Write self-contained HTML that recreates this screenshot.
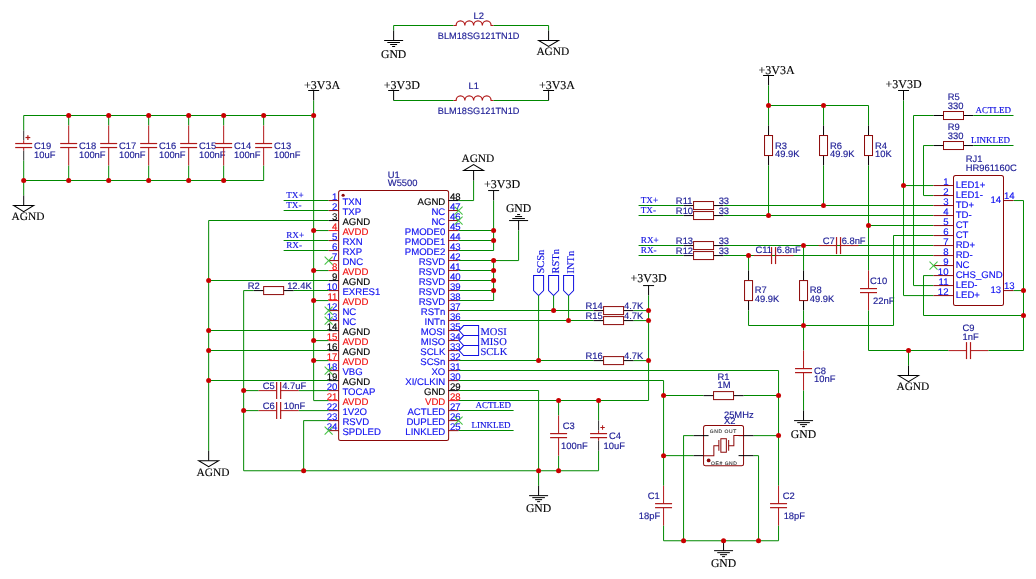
<!DOCTYPE html>
<html><head><meta charset="utf-8"><style>
html,body{margin:0;padding:0;background:#fff;}
svg{display:block;will-change:transform;} text{text-rendering:geometricPrecision;}
</style></head><body>
<svg width="1036" height="579" viewBox="0 0 1036 579">
<rect width="1036" height="579" fill="#fff"/>
<g transform="matrix(0.9998,0,0,1.0003,0.2,-0.008)">
<line x1="393.5" y1="25.5" x2="453.5" y2="25.5" stroke="#008800" stroke-width="1.0"/>
<line x1="453.5" y1="25.5" x2="453.5" y2="25.5" stroke="#b01818" stroke-width="1.0"/>
<path d="M453.5,25.5 L456.0,25.5 a4.375,4.6 0 0 1 8.75,0 a4.375,4.6 0 0 1 8.75,0 a4.375,4.6 0 0 1 8.75,0 a4.375,4.6 0 0 1 8.75,0 L493.5,25.5" fill="none" stroke="#b01818" stroke-width="1.2"/>
<line x1="493.5" y1="25.5" x2="548.5" y2="25.5" stroke="#008800" stroke-width="1.0"/>
<line x1="393.5" y1="25.5" x2="393.5" y2="30.5" stroke="#008800" stroke-width="1.0"/>
<line x1="393.5" y1="30.5" x2="393.5" y2="40.5" stroke="#000000" stroke-width="1.0"/>
<line x1="384.0" y1="40.5" x2="403.0" y2="40.5" stroke="#000000" stroke-width="1.0"/>
<line x1="387.2" y1="42.5" x2="399.8" y2="42.5" stroke="#000000" stroke-width="1.0"/>
<line x1="390.0" y1="44.5" x2="397.0" y2="44.5" stroke="#000000" stroke-width="1.0"/>
<line x1="392.0" y1="46.5" x2="395.0" y2="46.5" stroke="#000000" stroke-width="1.0"/>
<text x="393.5" y="57.7" font-family='"Liberation Serif", serif' font-size="11.7" fill="#000000" text-anchor="middle" stroke="#000000" stroke-width="0.12" >GND</text>
<line x1="548.5" y1="25.5" x2="548.5" y2="30.5" stroke="#008800" stroke-width="1.0"/>
<line x1="548.5" y1="30.5" x2="548.5" y2="40.5" stroke="#000000" stroke-width="1.0"/>
<polygon points="538.5,40.5 558.5,40.5 548.5,46.5" fill="none" stroke="#000000" stroke-width="1"/>
<text x="536.3" y="55.2" font-family='"Liberation Serif", serif' font-size="11.4" fill="#000000" text-anchor="start" stroke="#000000" stroke-width="0.12" >AGND</text>
<text x="473.5" y="18.8" font-family='"Liberation Sans", sans-serif' font-size="9.4" fill="#1a1a94" text-anchor="start" stroke="#1a1a94" stroke-width="0.15" >L2</text>
<text x="437.7" y="38.9" font-family='"Liberation Sans", sans-serif' font-size="9.2" fill="#1a1a94" text-anchor="start" stroke="#1a1a94" stroke-width="0.15" >BLM18SG121TN1D</text>
<line x1="388.0" y1="90.5" x2="399.0" y2="90.5" stroke="#000000" stroke-width="1.0"/>
<line x1="393.5" y1="90.5" x2="393.5" y2="100.5" stroke="#000000" stroke-width="1.0"/>
<text x="383.7" y="89" font-family='"Liberation Serif", serif' font-size="12" fill="#000000" text-anchor="start" stroke="#000000" stroke-width="0.12" >+3V3D</text>
<line x1="393.5" y1="100.5" x2="453.5" y2="100.5" stroke="#008800" stroke-width="1.0"/>
<line x1="453.5" y1="100.5" x2="453.5" y2="100.5" stroke="#b01818" stroke-width="1.0"/>
<path d="M453.5,100.5 L456.0,100.5 a4.375,4.6 0 0 1 8.75,0 a4.375,4.6 0 0 1 8.75,0 a4.375,4.6 0 0 1 8.75,0 a4.375,4.6 0 0 1 8.75,0 L493.5,100.5" fill="none" stroke="#b01818" stroke-width="1.2"/>
<line x1="493.5" y1="100.5" x2="548.5" y2="100.5" stroke="#008800" stroke-width="1.0"/>
<line x1="543.0" y1="90.5" x2="554.0" y2="90.5" stroke="#000000" stroke-width="1.0"/>
<line x1="548.5" y1="90.5" x2="548.5" y2="100.5" stroke="#000000" stroke-width="1.0"/>
<text x="538.8" y="89" font-family='"Liberation Serif", serif' font-size="12" fill="#000000" text-anchor="start" stroke="#000000" stroke-width="0.12" >+3V3A</text>
<text x="468.5" y="89" font-family='"Liberation Sans", sans-serif' font-size="9.4" fill="#1a1a94" text-anchor="start" stroke="#1a1a94" stroke-width="0.15" >L1</text>
<text x="437.7" y="114.2" font-family='"Liberation Sans", sans-serif' font-size="9.2" fill="#1a1a94" text-anchor="start" stroke="#1a1a94" stroke-width="0.15" >BLM18SG121TN1D</text>
<line x1="23.5" y1="115.5" x2="313.5" y2="115.5" stroke="#008800" stroke-width="1.0"/>
<line x1="23.5" y1="180.5" x2="263.5" y2="180.5" stroke="#008800" stroke-width="1.0"/>
<line x1="23.5" y1="115.5" x2="23.5" y2="130.5" stroke="#008800" stroke-width="1.0"/>
<line x1="23.5" y1="160.5" x2="23.5" y2="180.5" stroke="#008800" stroke-width="1.0"/>
<line x1="23.5" y1="130.5" x2="23.5" y2="140.5" stroke="#303030" stroke-width="1.0"/>
<line x1="23.5" y1="150.5" x2="23.5" y2="160.5" stroke="#303030" stroke-width="1.0"/>
<line x1="23.5" y1="140.5" x2="23.5" y2="143.5" stroke="#b01818" stroke-width="1.0"/>
<line x1="23.5" y1="147.5" x2="23.5" y2="150.5" stroke="#b01818" stroke-width="1.0"/>
<line x1="15.0" y1="143.5" x2="32.0" y2="143.5" stroke="#b01818" stroke-width="1.2"/>
<line x1="15.0" y1="147.5" x2="32.0" y2="147.5" stroke="#b01818" stroke-width="1.2"/>
<line x1="25.3" y1="137.5" x2="30.1" y2="137.5" stroke="#b01818" stroke-width="1.2"/>
<line x1="27.7" y1="135.1" x2="27.7" y2="139.9" stroke="#b01818" stroke-width="1.2"/>
<text x="33.8" y="149" font-family='"Liberation Sans", sans-serif' font-size="9.4" fill="#1a1a94" text-anchor="start" stroke="#1a1a94" stroke-width="0.15" >C19</text>
<text x="33.8" y="157.8" font-family='"Liberation Sans", sans-serif' font-size="9.4" fill="#1a1a94" text-anchor="start" stroke="#1a1a94" stroke-width="0.15" >10uF</text>
<line x1="68.5" y1="115.5" x2="68.5" y2="125.5" stroke="#008800" stroke-width="1.0"/>
<line x1="68.5" y1="165.5" x2="68.5" y2="180.5" stroke="#008800" stroke-width="1.0"/>
<line x1="68.5" y1="125.5" x2="68.5" y2="143.5" stroke="#b01818" stroke-width="1.0"/>
<line x1="68.5" y1="147.5" x2="68.5" y2="165.5" stroke="#b01818" stroke-width="1.0"/>
<line x1="60.0" y1="143.5" x2="77.0" y2="143.5" stroke="#b01818" stroke-width="1.2"/>
<line x1="60.0" y1="147.5" x2="77.0" y2="147.5" stroke="#b01818" stroke-width="1.2"/>
<text x="78.8" y="149" font-family='"Liberation Sans", sans-serif' font-size="9.4" fill="#1a1a94" text-anchor="start" stroke="#1a1a94" stroke-width="0.15" >C18</text>
<text x="78.8" y="157.8" font-family='"Liberation Sans", sans-serif' font-size="9.4" fill="#1a1a94" text-anchor="start" stroke="#1a1a94" stroke-width="0.15" >100nF</text>
<line x1="108.5" y1="115.5" x2="108.5" y2="125.5" stroke="#008800" stroke-width="1.0"/>
<line x1="108.5" y1="165.5" x2="108.5" y2="180.5" stroke="#008800" stroke-width="1.0"/>
<line x1="108.5" y1="125.5" x2="108.5" y2="143.5" stroke="#b01818" stroke-width="1.0"/>
<line x1="108.5" y1="147.5" x2="108.5" y2="165.5" stroke="#b01818" stroke-width="1.0"/>
<line x1="100.0" y1="143.5" x2="117.0" y2="143.5" stroke="#b01818" stroke-width="1.2"/>
<line x1="100.0" y1="147.5" x2="117.0" y2="147.5" stroke="#b01818" stroke-width="1.2"/>
<text x="118.8" y="149" font-family='"Liberation Sans", sans-serif' font-size="9.4" fill="#1a1a94" text-anchor="start" stroke="#1a1a94" stroke-width="0.15" >C17</text>
<text x="118.8" y="157.8" font-family='"Liberation Sans", sans-serif' font-size="9.4" fill="#1a1a94" text-anchor="start" stroke="#1a1a94" stroke-width="0.15" >100nF</text>
<line x1="148.5" y1="115.5" x2="148.5" y2="125.5" stroke="#008800" stroke-width="1.0"/>
<line x1="148.5" y1="165.5" x2="148.5" y2="180.5" stroke="#008800" stroke-width="1.0"/>
<line x1="148.5" y1="125.5" x2="148.5" y2="143.5" stroke="#b01818" stroke-width="1.0"/>
<line x1="148.5" y1="147.5" x2="148.5" y2="165.5" stroke="#b01818" stroke-width="1.0"/>
<line x1="140.0" y1="143.5" x2="157.0" y2="143.5" stroke="#b01818" stroke-width="1.2"/>
<line x1="140.0" y1="147.5" x2="157.0" y2="147.5" stroke="#b01818" stroke-width="1.2"/>
<text x="158.8" y="149" font-family='"Liberation Sans", sans-serif' font-size="9.4" fill="#1a1a94" text-anchor="start" stroke="#1a1a94" stroke-width="0.15" >C16</text>
<text x="158.8" y="157.8" font-family='"Liberation Sans", sans-serif' font-size="9.4" fill="#1a1a94" text-anchor="start" stroke="#1a1a94" stroke-width="0.15" >100nF</text>
<line x1="188.5" y1="115.5" x2="188.5" y2="125.5" stroke="#008800" stroke-width="1.0"/>
<line x1="188.5" y1="165.5" x2="188.5" y2="180.5" stroke="#008800" stroke-width="1.0"/>
<line x1="188.5" y1="125.5" x2="188.5" y2="143.5" stroke="#b01818" stroke-width="1.0"/>
<line x1="188.5" y1="147.5" x2="188.5" y2="165.5" stroke="#b01818" stroke-width="1.0"/>
<line x1="180.0" y1="143.5" x2="197.0" y2="143.5" stroke="#b01818" stroke-width="1.2"/>
<line x1="180.0" y1="147.5" x2="197.0" y2="147.5" stroke="#b01818" stroke-width="1.2"/>
<text x="198.8" y="149" font-family='"Liberation Sans", sans-serif' font-size="9.4" fill="#1a1a94" text-anchor="start" stroke="#1a1a94" stroke-width="0.15" >C15</text>
<text x="198.8" y="157.8" font-family='"Liberation Sans", sans-serif' font-size="9.4" fill="#1a1a94" text-anchor="start" stroke="#1a1a94" stroke-width="0.15" >100nF</text>
<line x1="223.5" y1="115.5" x2="223.5" y2="125.5" stroke="#008800" stroke-width="1.0"/>
<line x1="223.5" y1="165.5" x2="223.5" y2="180.5" stroke="#008800" stroke-width="1.0"/>
<line x1="223.5" y1="125.5" x2="223.5" y2="143.5" stroke="#b01818" stroke-width="1.0"/>
<line x1="223.5" y1="147.5" x2="223.5" y2="165.5" stroke="#b01818" stroke-width="1.0"/>
<line x1="215.0" y1="143.5" x2="232.0" y2="143.5" stroke="#b01818" stroke-width="1.2"/>
<line x1="215.0" y1="147.5" x2="232.0" y2="147.5" stroke="#b01818" stroke-width="1.2"/>
<text x="233.8" y="149" font-family='"Liberation Sans", sans-serif' font-size="9.4" fill="#1a1a94" text-anchor="start" stroke="#1a1a94" stroke-width="0.15" >C14</text>
<text x="233.8" y="157.8" font-family='"Liberation Sans", sans-serif' font-size="9.4" fill="#1a1a94" text-anchor="start" stroke="#1a1a94" stroke-width="0.15" >100nF</text>
<line x1="263.5" y1="115.5" x2="263.5" y2="125.5" stroke="#008800" stroke-width="1.0"/>
<line x1="263.5" y1="165.5" x2="263.5" y2="180.5" stroke="#008800" stroke-width="1.0"/>
<line x1="263.5" y1="125.5" x2="263.5" y2="143.5" stroke="#b01818" stroke-width="1.0"/>
<line x1="263.5" y1="147.5" x2="263.5" y2="165.5" stroke="#b01818" stroke-width="1.0"/>
<line x1="255.0" y1="143.5" x2="272.0" y2="143.5" stroke="#b01818" stroke-width="1.2"/>
<line x1="255.0" y1="147.5" x2="272.0" y2="147.5" stroke="#b01818" stroke-width="1.2"/>
<text x="273.8" y="149" font-family='"Liberation Sans", sans-serif' font-size="9.4" fill="#1a1a94" text-anchor="start" stroke="#1a1a94" stroke-width="0.15" >C13</text>
<text x="273.8" y="157.8" font-family='"Liberation Sans", sans-serif' font-size="9.4" fill="#1a1a94" text-anchor="start" stroke="#1a1a94" stroke-width="0.15" >100nF</text>
<line x1="23.5" y1="180.5" x2="23.5" y2="195.5" stroke="#008800" stroke-width="1.0"/>
<line x1="23.5" y1="195.5" x2="23.5" y2="205.5" stroke="#000000" stroke-width="1.0"/>
<polygon points="13.5,205.5 33.5,205.5 23.5,211.5" fill="none" stroke="#000000" stroke-width="1"/>
<text x="11.3" y="220.3" font-family='"Liberation Serif", serif' font-size="11.4" fill="#000000" text-anchor="start" stroke="#000000" stroke-width="0.12" >AGND</text>
<line x1="308.0" y1="90.5" x2="319.0" y2="90.5" stroke="#000000" stroke-width="1.0"/>
<line x1="313.5" y1="90.5" x2="313.5" y2="100.5" stroke="#000000" stroke-width="1.0"/>
<text x="303.9" y="89" font-family='"Liberation Serif", serif' font-size="12" fill="#000000" text-anchor="start" stroke="#000000" stroke-width="0.12" >+3V3A</text>
<line x1="313.5" y1="100.5" x2="313.5" y2="400.5" stroke="#008800" stroke-width="1.0"/>
<line x1="208.5" y1="220.5" x2="328.5" y2="220.5" stroke="#008800" stroke-width="1.0"/>
<line x1="208.5" y1="220.5" x2="208.5" y2="450.5" stroke="#008800" stroke-width="1.0"/>
<line x1="208.5" y1="280.5" x2="328.5" y2="280.5" stroke="#008800" stroke-width="1.0"/>
<line x1="208.5" y1="330.5" x2="328.5" y2="330.5" stroke="#008800" stroke-width="1.0"/>
<line x1="208.5" y1="350.5" x2="328.5" y2="350.5" stroke="#008800" stroke-width="1.0"/>
<line x1="208.5" y1="380.5" x2="328.5" y2="380.5" stroke="#008800" stroke-width="1.0"/>
<line x1="313.5" y1="230.5" x2="328.5" y2="230.5" stroke="#008800" stroke-width="1.0"/>
<line x1="313.5" y1="270.5" x2="328.5" y2="270.5" stroke="#008800" stroke-width="1.0"/>
<line x1="313.5" y1="300.5" x2="328.5" y2="300.5" stroke="#008800" stroke-width="1.0"/>
<line x1="313.5" y1="340.5" x2="328.5" y2="340.5" stroke="#008800" stroke-width="1.0"/>
<line x1="313.5" y1="360.5" x2="328.5" y2="360.5" stroke="#008800" stroke-width="1.0"/>
<line x1="313.5" y1="400.5" x2="328.5" y2="400.5" stroke="#008800" stroke-width="1.0"/>
<line x1="208.5" y1="450.5" x2="208.5" y2="460.5" stroke="#000000" stroke-width="1.0"/>
<polygon points="198.5,460.5 218.5,460.5 208.5,466.5" fill="none" stroke="#000000" stroke-width="1"/>
<text x="196.4" y="475.4" font-family='"Liberation Serif", serif' font-size="11.4" fill="#000000" text-anchor="start" stroke="#000000" stroke-width="0.12" >AGND</text>
<line x1="283.5" y1="200.5" x2="328.5" y2="200.5" stroke="#008800" stroke-width="1.0"/>
<text x="286" y="198.0" font-family='"Liberation Serif", serif' font-size="9.2" fill="#1010e0" text-anchor="start" stroke="#1010e0" stroke-width="0.14" >TX+</text>
<line x1="283.5" y1="210.5" x2="328.5" y2="210.5" stroke="#008800" stroke-width="1.0"/>
<text x="286" y="208.0" font-family='"Liberation Serif", serif' font-size="9.2" fill="#1010e0" text-anchor="start" stroke="#1010e0" stroke-width="0.14" >TX-</text>
<line x1="283.5" y1="240.5" x2="328.5" y2="240.5" stroke="#008800" stroke-width="1.0"/>
<text x="286" y="238.0" font-family='"Liberation Serif", serif' font-size="9.2" fill="#1010e0" text-anchor="start" stroke="#1010e0" stroke-width="0.14" >RX+</text>
<line x1="283.5" y1="250.5" x2="328.5" y2="250.5" stroke="#008800" stroke-width="1.0"/>
<text x="286" y="248.0" font-family='"Liberation Serif", serif' font-size="9.2" fill="#1010e0" text-anchor="start" stroke="#1010e0" stroke-width="0.14" >RX-</text>
<line x1="243.5" y1="290.5" x2="253.5" y2="290.5" stroke="#008800" stroke-width="1.0"/>
<line x1="293.5" y1="290.5" x2="328.5" y2="290.5" stroke="#008800" stroke-width="1.0"/>
<line x1="253.5" y1="290.5" x2="263.5" y2="290.5" stroke="#000000" stroke-width="1.0"/>
<line x1="283.5" y1="290.5" x2="293.5" y2="290.5" stroke="#000000" stroke-width="1.0"/>
<rect x="263.5" y="286.5" width="20.0" height="8.0" rx="0" fill="none" stroke="#8c0808" stroke-width="1.0"/>
<text x="247.6" y="288.8" font-family='"Liberation Sans", sans-serif' font-size="9.4" fill="#1a1a94" text-anchor="start" stroke="#1a1a94" stroke-width="0.15" >R2</text>
<text x="287" y="288.8" font-family='"Liberation Sans", sans-serif' font-size="9.4" fill="#1a1a94" text-anchor="start" stroke="#1a1a94" stroke-width="0.15" >12.4K</text>
<line x1="243.5" y1="290.5" x2="243.5" y2="470.5" stroke="#008800" stroke-width="1.0"/>
<line x1="243.5" y1="390.5" x2="258.5" y2="390.5" stroke="#008800" stroke-width="1.0"/>
<line x1="298.5" y1="390.5" x2="328.5" y2="390.5" stroke="#008800" stroke-width="1.0"/>
<line x1="258.5" y1="390.5" x2="276.5" y2="390.5" stroke="#b01818" stroke-width="1.0"/>
<line x1="280.5" y1="390.5" x2="298.5" y2="390.5" stroke="#b01818" stroke-width="1.0"/>
<line x1="276.5" y1="382.0" x2="276.5" y2="399.0" stroke="#b01818" stroke-width="1.2"/>
<line x1="280.5" y1="382.0" x2="280.5" y2="399.0" stroke="#b01818" stroke-width="1.2"/>
<text x="262.7" y="388.6" font-family='"Liberation Sans", sans-serif' font-size="9.4" fill="#1a1a94" text-anchor="start" stroke="#1a1a94" stroke-width="0.15" >C5</text>
<text x="282" y="388.6" font-family='"Liberation Sans", sans-serif' font-size="9.4" fill="#1a1a94" text-anchor="start" stroke="#1a1a94" stroke-width="0.15" >4.7uF</text>
<line x1="243.5" y1="410.5" x2="258.5" y2="410.5" stroke="#008800" stroke-width="1.0"/>
<line x1="298.5" y1="410.5" x2="328.5" y2="410.5" stroke="#008800" stroke-width="1.0"/>
<line x1="258.5" y1="410.5" x2="276.5" y2="410.5" stroke="#b01818" stroke-width="1.0"/>
<line x1="280.5" y1="410.5" x2="298.5" y2="410.5" stroke="#b01818" stroke-width="1.0"/>
<line x1="276.5" y1="402.0" x2="276.5" y2="419.0" stroke="#b01818" stroke-width="1.2"/>
<line x1="280.5" y1="402.0" x2="280.5" y2="419.0" stroke="#b01818" stroke-width="1.2"/>
<text x="262.7" y="408.4" font-family='"Liberation Sans", sans-serif' font-size="9.4" fill="#1a1a94" text-anchor="start" stroke="#1a1a94" stroke-width="0.15" >C6</text>
<text x="283.6" y="408.4" font-family='"Liberation Sans", sans-serif' font-size="9.4" fill="#1a1a94" text-anchor="start" stroke="#1a1a94" stroke-width="0.15" >10nF</text>
<line x1="303.5" y1="420.5" x2="328.5" y2="420.5" stroke="#008800" stroke-width="1.0"/>
<line x1="303.5" y1="420.5" x2="303.5" y2="470.5" stroke="#008800" stroke-width="1.0"/>
<line x1="243.5" y1="470.5" x2="598.5" y2="470.5" stroke="#008800" stroke-width="1.0"/>
<rect x="338.5" y="190.5" width="110.0" height="250.0" rx="2" fill="none" stroke="#8c0808" stroke-width="1.0"/>
<circle cx="343" cy="195.2" r="1.6" fill="#8c0808"/>
<line x1="328.5" y1="200.5" x2="338.5" y2="200.5" stroke="#8c0808" stroke-width="1.0"/>
<text x="337.3" y="199.7" font-family='"Liberation Sans", sans-serif' font-size="9.6" fill="#1010f0" text-anchor="end" stroke="#1010f0" stroke-width="0.15" >1</text>
<text x="342.3" y="204.8" font-family='"Liberation Sans", sans-serif' font-size="9.6" fill="#1010f0" text-anchor="start" stroke="#1010f0" stroke-width="0.15" >TXN</text>
<line x1="328.5" y1="210.5" x2="338.5" y2="210.5" stroke="#8c0808" stroke-width="1.0"/>
<text x="337.3" y="209.7" font-family='"Liberation Sans", sans-serif' font-size="9.6" fill="#1010f0" text-anchor="end" stroke="#1010f0" stroke-width="0.15" >2</text>
<text x="342.3" y="214.8" font-family='"Liberation Sans", sans-serif' font-size="9.6" fill="#1010f0" text-anchor="start" stroke="#1010f0" stroke-width="0.15" >TXP</text>
<line x1="328.5" y1="220.5" x2="338.5" y2="220.5" stroke="#000000" stroke-width="1.0"/>
<text x="337.3" y="219.7" font-family='"Liberation Sans", sans-serif' font-size="9.6" fill="#000000" text-anchor="end" stroke="#000000" stroke-width="0.15" >3</text>
<text x="342.3" y="224.8" font-family='"Liberation Sans", sans-serif' font-size="9.6" fill="#000000" text-anchor="start" stroke="#000000" stroke-width="0.15" >AGND</text>
<line x1="328.5" y1="230.5" x2="338.5" y2="230.5" stroke="#f01010" stroke-width="1.0"/>
<text x="337.3" y="229.7" font-family='"Liberation Sans", sans-serif' font-size="9.6" fill="#f01010" text-anchor="end" stroke="#f01010" stroke-width="0.15" >4</text>
<text x="342.3" y="234.8" font-family='"Liberation Sans", sans-serif' font-size="9.6" fill="#f01010" text-anchor="start" stroke="#f01010" stroke-width="0.15" >AVDD</text>
<line x1="328.5" y1="240.5" x2="338.5" y2="240.5" stroke="#8c0808" stroke-width="1.0"/>
<text x="337.3" y="239.7" font-family='"Liberation Sans", sans-serif' font-size="9.6" fill="#1010f0" text-anchor="end" stroke="#1010f0" stroke-width="0.15" >5</text>
<text x="342.3" y="244.8" font-family='"Liberation Sans", sans-serif' font-size="9.6" fill="#1010f0" text-anchor="start" stroke="#1010f0" stroke-width="0.15" >RXN</text>
<line x1="328.5" y1="250.5" x2="338.5" y2="250.5" stroke="#8c0808" stroke-width="1.0"/>
<text x="337.3" y="249.7" font-family='"Liberation Sans", sans-serif' font-size="9.6" fill="#1010f0" text-anchor="end" stroke="#1010f0" stroke-width="0.15" >6</text>
<text x="342.3" y="254.8" font-family='"Liberation Sans", sans-serif' font-size="9.6" fill="#1010f0" text-anchor="start" stroke="#1010f0" stroke-width="0.15" >RXP</text>
<line x1="328.5" y1="260.5" x2="338.5" y2="260.5" stroke="#8c0808" stroke-width="1.0"/>
<text x="337.3" y="259.7" font-family='"Liberation Sans", sans-serif' font-size="9.6" fill="#1010f0" text-anchor="end" stroke="#1010f0" stroke-width="0.15" >7</text>
<text x="342.3" y="264.8" font-family='"Liberation Sans", sans-serif' font-size="9.6" fill="#1010f0" text-anchor="start" stroke="#1010f0" stroke-width="0.15" >DNC</text>
<line x1="328.5" y1="270.5" x2="338.5" y2="270.5" stroke="#f01010" stroke-width="1.0"/>
<text x="337.3" y="269.7" font-family='"Liberation Sans", sans-serif' font-size="9.6" fill="#f01010" text-anchor="end" stroke="#f01010" stroke-width="0.15" >8</text>
<text x="342.3" y="274.8" font-family='"Liberation Sans", sans-serif' font-size="9.6" fill="#f01010" text-anchor="start" stroke="#f01010" stroke-width="0.15" >AVDD</text>
<line x1="328.5" y1="280.5" x2="338.5" y2="280.5" stroke="#000000" stroke-width="1.0"/>
<text x="337.3" y="279.7" font-family='"Liberation Sans", sans-serif' font-size="9.6" fill="#000000" text-anchor="end" stroke="#000000" stroke-width="0.15" >9</text>
<text x="342.3" y="284.8" font-family='"Liberation Sans", sans-serif' font-size="9.6" fill="#000000" text-anchor="start" stroke="#000000" stroke-width="0.15" >AGND</text>
<line x1="328.5" y1="290.5" x2="338.5" y2="290.5" stroke="#8c0808" stroke-width="1.0"/>
<text x="337.3" y="289.7" font-family='"Liberation Sans", sans-serif' font-size="9.6" fill="#1010f0" text-anchor="end" stroke="#1010f0" stroke-width="0.15" >10</text>
<text x="342.3" y="294.8" font-family='"Liberation Sans", sans-serif' font-size="9.6" fill="#1010f0" text-anchor="start" stroke="#1010f0" stroke-width="0.15" >EXRES1</text>
<line x1="328.5" y1="300.5" x2="338.5" y2="300.5" stroke="#f01010" stroke-width="1.0"/>
<text x="337.3" y="299.7" font-family='"Liberation Sans", sans-serif' font-size="9.6" fill="#f01010" text-anchor="end" stroke="#f01010" stroke-width="0.15" >11</text>
<text x="342.3" y="304.8" font-family='"Liberation Sans", sans-serif' font-size="9.6" fill="#f01010" text-anchor="start" stroke="#f01010" stroke-width="0.15" >AVDD</text>
<line x1="328.5" y1="310.5" x2="338.5" y2="310.5" stroke="#8c0808" stroke-width="1.0"/>
<text x="337.3" y="309.7" font-family='"Liberation Sans", sans-serif' font-size="9.6" fill="#1010f0" text-anchor="end" stroke="#1010f0" stroke-width="0.15" >12</text>
<text x="342.3" y="314.8" font-family='"Liberation Sans", sans-serif' font-size="9.6" fill="#1010f0" text-anchor="start" stroke="#1010f0" stroke-width="0.15" >NC</text>
<line x1="328.5" y1="320.5" x2="338.5" y2="320.5" stroke="#8c0808" stroke-width="1.0"/>
<text x="337.3" y="319.7" font-family='"Liberation Sans", sans-serif' font-size="9.6" fill="#1010f0" text-anchor="end" stroke="#1010f0" stroke-width="0.15" >13</text>
<text x="342.3" y="324.8" font-family='"Liberation Sans", sans-serif' font-size="9.6" fill="#1010f0" text-anchor="start" stroke="#1010f0" stroke-width="0.15" >NC</text>
<line x1="328.5" y1="330.5" x2="338.5" y2="330.5" stroke="#000000" stroke-width="1.0"/>
<text x="337.3" y="329.7" font-family='"Liberation Sans", sans-serif' font-size="9.6" fill="#000000" text-anchor="end" stroke="#000000" stroke-width="0.15" >14</text>
<text x="342.3" y="334.8" font-family='"Liberation Sans", sans-serif' font-size="9.6" fill="#000000" text-anchor="start" stroke="#000000" stroke-width="0.15" >AGND</text>
<line x1="328.5" y1="340.5" x2="338.5" y2="340.5" stroke="#f01010" stroke-width="1.0"/>
<text x="337.3" y="339.7" font-family='"Liberation Sans", sans-serif' font-size="9.6" fill="#f01010" text-anchor="end" stroke="#f01010" stroke-width="0.15" >15</text>
<text x="342.3" y="344.8" font-family='"Liberation Sans", sans-serif' font-size="9.6" fill="#f01010" text-anchor="start" stroke="#f01010" stroke-width="0.15" >AVDD</text>
<line x1="328.5" y1="350.5" x2="338.5" y2="350.5" stroke="#000000" stroke-width="1.0"/>
<text x="337.3" y="349.7" font-family='"Liberation Sans", sans-serif' font-size="9.6" fill="#000000" text-anchor="end" stroke="#000000" stroke-width="0.15" >16</text>
<text x="342.3" y="354.8" font-family='"Liberation Sans", sans-serif' font-size="9.6" fill="#000000" text-anchor="start" stroke="#000000" stroke-width="0.15" >AGND</text>
<line x1="328.5" y1="360.5" x2="338.5" y2="360.5" stroke="#f01010" stroke-width="1.0"/>
<text x="337.3" y="359.7" font-family='"Liberation Sans", sans-serif' font-size="9.6" fill="#f01010" text-anchor="end" stroke="#f01010" stroke-width="0.15" >17</text>
<text x="342.3" y="364.8" font-family='"Liberation Sans", sans-serif' font-size="9.6" fill="#f01010" text-anchor="start" stroke="#f01010" stroke-width="0.15" >AVDD</text>
<line x1="328.5" y1="370.5" x2="338.5" y2="370.5" stroke="#8c0808" stroke-width="1.0"/>
<text x="337.3" y="369.7" font-family='"Liberation Sans", sans-serif' font-size="9.6" fill="#1010f0" text-anchor="end" stroke="#1010f0" stroke-width="0.15" >18</text>
<text x="342.3" y="374.8" font-family='"Liberation Sans", sans-serif' font-size="9.6" fill="#1010f0" text-anchor="start" stroke="#1010f0" stroke-width="0.15" >VBG</text>
<line x1="328.5" y1="380.5" x2="338.5" y2="380.5" stroke="#000000" stroke-width="1.0"/>
<text x="337.3" y="379.7" font-family='"Liberation Sans", sans-serif' font-size="9.6" fill="#000000" text-anchor="end" stroke="#000000" stroke-width="0.15" >19</text>
<text x="342.3" y="384.8" font-family='"Liberation Sans", sans-serif' font-size="9.6" fill="#000000" text-anchor="start" stroke="#000000" stroke-width="0.15" >AGND</text>
<line x1="328.5" y1="390.5" x2="338.5" y2="390.5" stroke="#8c0808" stroke-width="1.0"/>
<text x="337.3" y="389.7" font-family='"Liberation Sans", sans-serif' font-size="9.6" fill="#1010f0" text-anchor="end" stroke="#1010f0" stroke-width="0.15" >20</text>
<text x="342.3" y="394.8" font-family='"Liberation Sans", sans-serif' font-size="9.6" fill="#1010f0" text-anchor="start" stroke="#1010f0" stroke-width="0.15" >TOCAP</text>
<line x1="328.5" y1="400.5" x2="338.5" y2="400.5" stroke="#f01010" stroke-width="1.0"/>
<text x="337.3" y="399.7" font-family='"Liberation Sans", sans-serif' font-size="9.6" fill="#f01010" text-anchor="end" stroke="#f01010" stroke-width="0.15" >21</text>
<text x="342.3" y="404.8" font-family='"Liberation Sans", sans-serif' font-size="9.6" fill="#f01010" text-anchor="start" stroke="#f01010" stroke-width="0.15" >AVDD</text>
<line x1="328.5" y1="410.5" x2="338.5" y2="410.5" stroke="#8c0808" stroke-width="1.0"/>
<text x="337.3" y="409.7" font-family='"Liberation Sans", sans-serif' font-size="9.6" fill="#1010f0" text-anchor="end" stroke="#1010f0" stroke-width="0.15" >22</text>
<text x="342.3" y="414.8" font-family='"Liberation Sans", sans-serif' font-size="9.6" fill="#1010f0" text-anchor="start" stroke="#1010f0" stroke-width="0.15" >1V2O</text>
<line x1="328.5" y1="420.5" x2="338.5" y2="420.5" stroke="#8c0808" stroke-width="1.0"/>
<text x="337.3" y="419.7" font-family='"Liberation Sans", sans-serif' font-size="9.6" fill="#1010f0" text-anchor="end" stroke="#1010f0" stroke-width="0.15" >23</text>
<text x="342.3" y="424.8" font-family='"Liberation Sans", sans-serif' font-size="9.6" fill="#1010f0" text-anchor="start" stroke="#1010f0" stroke-width="0.15" >RSVD</text>
<line x1="328.5" y1="430.5" x2="338.5" y2="430.5" stroke="#8c0808" stroke-width="1.0"/>
<text x="337.3" y="429.7" font-family='"Liberation Sans", sans-serif' font-size="9.6" fill="#1010f0" text-anchor="end" stroke="#1010f0" stroke-width="0.15" >24</text>
<text x="342.3" y="434.8" font-family='"Liberation Sans", sans-serif' font-size="9.6" fill="#1010f0" text-anchor="start" stroke="#1010f0" stroke-width="0.15" >SPDLED</text>
<line x1="448.5" y1="200.5" x2="458.5" y2="200.5" stroke="#000000" stroke-width="1.0"/>
<text x="449.8" y="199.7" font-family='"Liberation Sans", sans-serif' font-size="9.6" fill="#000000" text-anchor="start" stroke="#000000" stroke-width="0.15" >48</text>
<text x="445.2" y="204.8" font-family='"Liberation Sans", sans-serif' font-size="9.6" fill="#000000" text-anchor="end" stroke="#000000" stroke-width="0.15" >AGND</text>
<line x1="448.5" y1="210.5" x2="458.5" y2="210.5" stroke="#8c0808" stroke-width="1.0"/>
<text x="449.8" y="209.7" font-family='"Liberation Sans", sans-serif' font-size="9.6" fill="#1010f0" text-anchor="start" stroke="#1010f0" stroke-width="0.15" >47</text>
<text x="445.2" y="214.8" font-family='"Liberation Sans", sans-serif' font-size="9.6" fill="#1010f0" text-anchor="end" stroke="#1010f0" stroke-width="0.15" >NC</text>
<line x1="448.5" y1="220.5" x2="458.5" y2="220.5" stroke="#8c0808" stroke-width="1.0"/>
<text x="449.8" y="219.7" font-family='"Liberation Sans", sans-serif' font-size="9.6" fill="#1010f0" text-anchor="start" stroke="#1010f0" stroke-width="0.15" >46</text>
<text x="445.2" y="224.8" font-family='"Liberation Sans", sans-serif' font-size="9.6" fill="#1010f0" text-anchor="end" stroke="#1010f0" stroke-width="0.15" >NC</text>
<line x1="448.5" y1="230.5" x2="458.5" y2="230.5" stroke="#8c0808" stroke-width="1.0"/>
<text x="449.8" y="229.7" font-family='"Liberation Sans", sans-serif' font-size="9.6" fill="#1010f0" text-anchor="start" stroke="#1010f0" stroke-width="0.15" >45</text>
<text x="445.2" y="234.8" font-family='"Liberation Sans", sans-serif' font-size="9.6" fill="#1010f0" text-anchor="end" stroke="#1010f0" stroke-width="0.15" >PMODE0</text>
<line x1="448.5" y1="240.5" x2="458.5" y2="240.5" stroke="#8c0808" stroke-width="1.0"/>
<text x="449.8" y="239.7" font-family='"Liberation Sans", sans-serif' font-size="9.6" fill="#1010f0" text-anchor="start" stroke="#1010f0" stroke-width="0.15" >44</text>
<text x="445.2" y="244.8" font-family='"Liberation Sans", sans-serif' font-size="9.6" fill="#1010f0" text-anchor="end" stroke="#1010f0" stroke-width="0.15" >PMODE1</text>
<line x1="448.5" y1="250.5" x2="458.5" y2="250.5" stroke="#8c0808" stroke-width="1.0"/>
<text x="449.8" y="249.7" font-family='"Liberation Sans", sans-serif' font-size="9.6" fill="#1010f0" text-anchor="start" stroke="#1010f0" stroke-width="0.15" >43</text>
<text x="445.2" y="254.8" font-family='"Liberation Sans", sans-serif' font-size="9.6" fill="#1010f0" text-anchor="end" stroke="#1010f0" stroke-width="0.15" >PMODE2</text>
<line x1="448.5" y1="260.5" x2="458.5" y2="260.5" stroke="#8c0808" stroke-width="1.0"/>
<text x="449.8" y="259.7" font-family='"Liberation Sans", sans-serif' font-size="9.6" fill="#1010f0" text-anchor="start" stroke="#1010f0" stroke-width="0.15" >42</text>
<text x="445.2" y="264.8" font-family='"Liberation Sans", sans-serif' font-size="9.6" fill="#1010f0" text-anchor="end" stroke="#1010f0" stroke-width="0.15" >RSVD</text>
<line x1="448.5" y1="270.5" x2="458.5" y2="270.5" stroke="#8c0808" stroke-width="1.0"/>
<text x="449.8" y="269.7" font-family='"Liberation Sans", sans-serif' font-size="9.6" fill="#1010f0" text-anchor="start" stroke="#1010f0" stroke-width="0.15" >41</text>
<text x="445.2" y="274.8" font-family='"Liberation Sans", sans-serif' font-size="9.6" fill="#1010f0" text-anchor="end" stroke="#1010f0" stroke-width="0.15" >RSVD</text>
<line x1="448.5" y1="280.5" x2="458.5" y2="280.5" stroke="#8c0808" stroke-width="1.0"/>
<text x="449.8" y="279.7" font-family='"Liberation Sans", sans-serif' font-size="9.6" fill="#1010f0" text-anchor="start" stroke="#1010f0" stroke-width="0.15" >40</text>
<text x="445.2" y="284.8" font-family='"Liberation Sans", sans-serif' font-size="9.6" fill="#1010f0" text-anchor="end" stroke="#1010f0" stroke-width="0.15" >RSVD</text>
<line x1="448.5" y1="290.5" x2="458.5" y2="290.5" stroke="#8c0808" stroke-width="1.0"/>
<text x="449.8" y="289.7" font-family='"Liberation Sans", sans-serif' font-size="9.6" fill="#1010f0" text-anchor="start" stroke="#1010f0" stroke-width="0.15" >39</text>
<text x="445.2" y="294.8" font-family='"Liberation Sans", sans-serif' font-size="9.6" fill="#1010f0" text-anchor="end" stroke="#1010f0" stroke-width="0.15" >RSVD</text>
<line x1="448.5" y1="300.5" x2="458.5" y2="300.5" stroke="#8c0808" stroke-width="1.0"/>
<text x="449.8" y="299.7" font-family='"Liberation Sans", sans-serif' font-size="9.6" fill="#1010f0" text-anchor="start" stroke="#1010f0" stroke-width="0.15" >38</text>
<text x="445.2" y="304.8" font-family='"Liberation Sans", sans-serif' font-size="9.6" fill="#1010f0" text-anchor="end" stroke="#1010f0" stroke-width="0.15" >RSVD</text>
<line x1="448.5" y1="310.5" x2="458.5" y2="310.5" stroke="#8c0808" stroke-width="1.0"/>
<text x="449.8" y="309.7" font-family='"Liberation Sans", sans-serif' font-size="9.6" fill="#1010f0" text-anchor="start" stroke="#1010f0" stroke-width="0.15" >37</text>
<text x="445.2" y="314.8" font-family='"Liberation Sans", sans-serif' font-size="9.6" fill="#1010f0" text-anchor="end" stroke="#1010f0" stroke-width="0.15" >RSTn</text>
<line x1="448.5" y1="320.5" x2="458.5" y2="320.5" stroke="#8c0808" stroke-width="1.0"/>
<text x="449.8" y="319.7" font-family='"Liberation Sans", sans-serif' font-size="9.6" fill="#1010f0" text-anchor="start" stroke="#1010f0" stroke-width="0.15" >36</text>
<text x="445.2" y="324.8" font-family='"Liberation Sans", sans-serif' font-size="9.6" fill="#1010f0" text-anchor="end" stroke="#1010f0" stroke-width="0.15" >INTn</text>
<line x1="448.5" y1="330.5" x2="458.5" y2="330.5" stroke="#8c0808" stroke-width="1.0"/>
<text x="449.8" y="329.7" font-family='"Liberation Sans", sans-serif' font-size="9.6" fill="#1010f0" text-anchor="start" stroke="#1010f0" stroke-width="0.15" >35</text>
<text x="445.2" y="334.8" font-family='"Liberation Sans", sans-serif' font-size="9.6" fill="#1010f0" text-anchor="end" stroke="#1010f0" stroke-width="0.15" >MOSI</text>
<line x1="448.5" y1="340.5" x2="458.5" y2="340.5" stroke="#8c0808" stroke-width="1.0"/>
<text x="449.8" y="339.7" font-family='"Liberation Sans", sans-serif' font-size="9.6" fill="#1010f0" text-anchor="start" stroke="#1010f0" stroke-width="0.15" >34</text>
<text x="445.2" y="344.8" font-family='"Liberation Sans", sans-serif' font-size="9.6" fill="#1010f0" text-anchor="end" stroke="#1010f0" stroke-width="0.15" >MISO</text>
<line x1="448.5" y1="350.5" x2="458.5" y2="350.5" stroke="#8c0808" stroke-width="1.0"/>
<text x="449.8" y="349.7" font-family='"Liberation Sans", sans-serif' font-size="9.6" fill="#1010f0" text-anchor="start" stroke="#1010f0" stroke-width="0.15" >33</text>
<text x="445.2" y="354.8" font-family='"Liberation Sans", sans-serif' font-size="9.6" fill="#1010f0" text-anchor="end" stroke="#1010f0" stroke-width="0.15" >SCLK</text>
<line x1="448.5" y1="360.5" x2="458.5" y2="360.5" stroke="#8c0808" stroke-width="1.0"/>
<text x="449.8" y="359.7" font-family='"Liberation Sans", sans-serif' font-size="9.6" fill="#1010f0" text-anchor="start" stroke="#1010f0" stroke-width="0.15" >32</text>
<text x="445.2" y="364.8" font-family='"Liberation Sans", sans-serif' font-size="9.6" fill="#1010f0" text-anchor="end" stroke="#1010f0" stroke-width="0.15" >SCSn</text>
<line x1="448.5" y1="370.5" x2="458.5" y2="370.5" stroke="#8c0808" stroke-width="1.0"/>
<text x="449.8" y="369.7" font-family='"Liberation Sans", sans-serif' font-size="9.6" fill="#1010f0" text-anchor="start" stroke="#1010f0" stroke-width="0.15" >31</text>
<text x="445.2" y="374.8" font-family='"Liberation Sans", sans-serif' font-size="9.6" fill="#1010f0" text-anchor="end" stroke="#1010f0" stroke-width="0.15" >XO</text>
<line x1="448.5" y1="380.5" x2="458.5" y2="380.5" stroke="#8c0808" stroke-width="1.0"/>
<text x="449.8" y="379.7" font-family='"Liberation Sans", sans-serif' font-size="9.6" fill="#1010f0" text-anchor="start" stroke="#1010f0" stroke-width="0.15" >30</text>
<text x="445.2" y="384.8" font-family='"Liberation Sans", sans-serif' font-size="9.6" fill="#1010f0" text-anchor="end" stroke="#1010f0" stroke-width="0.15" >XI/CLKIN</text>
<line x1="448.5" y1="390.5" x2="458.5" y2="390.5" stroke="#000000" stroke-width="1.0"/>
<text x="449.8" y="389.7" font-family='"Liberation Sans", sans-serif' font-size="9.6" fill="#000000" text-anchor="start" stroke="#000000" stroke-width="0.15" >29</text>
<text x="445.2" y="394.8" font-family='"Liberation Sans", sans-serif' font-size="9.6" fill="#000000" text-anchor="end" stroke="#000000" stroke-width="0.15" >GND</text>
<line x1="448.5" y1="400.5" x2="458.5" y2="400.5" stroke="#f01010" stroke-width="1.0"/>
<text x="449.8" y="399.7" font-family='"Liberation Sans", sans-serif' font-size="9.6" fill="#f01010" text-anchor="start" stroke="#f01010" stroke-width="0.15" >28</text>
<text x="445.2" y="404.8" font-family='"Liberation Sans", sans-serif' font-size="9.6" fill="#f01010" text-anchor="end" stroke="#f01010" stroke-width="0.15" >VDD</text>
<line x1="448.5" y1="410.5" x2="458.5" y2="410.5" stroke="#8c0808" stroke-width="1.0"/>
<text x="449.8" y="409.7" font-family='"Liberation Sans", sans-serif' font-size="9.6" fill="#1010f0" text-anchor="start" stroke="#1010f0" stroke-width="0.15" >27</text>
<text x="445.2" y="414.8" font-family='"Liberation Sans", sans-serif' font-size="9.6" fill="#1010f0" text-anchor="end" stroke="#1010f0" stroke-width="0.15" >ACTLED</text>
<line x1="448.5" y1="420.5" x2="458.5" y2="420.5" stroke="#8c0808" stroke-width="1.0"/>
<text x="449.8" y="419.7" font-family='"Liberation Sans", sans-serif' font-size="9.6" fill="#1010f0" text-anchor="start" stroke="#1010f0" stroke-width="0.15" >26</text>
<text x="445.2" y="424.8" font-family='"Liberation Sans", sans-serif' font-size="9.6" fill="#1010f0" text-anchor="end" stroke="#1010f0" stroke-width="0.15" >DUPLED</text>
<line x1="448.5" y1="430.5" x2="458.5" y2="430.5" stroke="#8c0808" stroke-width="1.0"/>
<text x="449.8" y="429.7" font-family='"Liberation Sans", sans-serif' font-size="9.6" fill="#1010f0" text-anchor="start" stroke="#1010f0" stroke-width="0.15" >25</text>
<text x="445.2" y="434.8" font-family='"Liberation Sans", sans-serif' font-size="9.6" fill="#1010f0" text-anchor="end" stroke="#1010f0" stroke-width="0.15" >LINKLED</text>
<line x1="324.5" y1="256.5" x2="332.5" y2="264.5" stroke="#40c040" stroke-width="1.0"/>
<line x1="324.5" y1="264.5" x2="332.5" y2="256.5" stroke="#40c040" stroke-width="1.0"/>
<line x1="324.5" y1="306.5" x2="332.5" y2="314.5" stroke="#40c040" stroke-width="1.0"/>
<line x1="324.5" y1="314.5" x2="332.5" y2="306.5" stroke="#40c040" stroke-width="1.0"/>
<line x1="324.5" y1="316.5" x2="332.5" y2="324.5" stroke="#40c040" stroke-width="1.0"/>
<line x1="324.5" y1="324.5" x2="332.5" y2="316.5" stroke="#40c040" stroke-width="1.0"/>
<line x1="324.5" y1="366.5" x2="332.5" y2="374.5" stroke="#40c040" stroke-width="1.0"/>
<line x1="324.5" y1="374.5" x2="332.5" y2="366.5" stroke="#40c040" stroke-width="1.0"/>
<line x1="324.5" y1="426.5" x2="332.5" y2="434.5" stroke="#40c040" stroke-width="1.0"/>
<line x1="324.5" y1="434.5" x2="332.5" y2="426.5" stroke="#40c040" stroke-width="1.0"/>
<line x1="454.5" y1="206.5" x2="462.5" y2="214.5" stroke="#40c040" stroke-width="1.0"/>
<line x1="454.5" y1="214.5" x2="462.5" y2="206.5" stroke="#40c040" stroke-width="1.0"/>
<line x1="454.5" y1="216.5" x2="462.5" y2="224.5" stroke="#40c040" stroke-width="1.0"/>
<line x1="454.5" y1="224.5" x2="462.5" y2="216.5" stroke="#40c040" stroke-width="1.0"/>
<line x1="454.5" y1="416.5" x2="462.5" y2="424.5" stroke="#40c040" stroke-width="1.0"/>
<line x1="454.5" y1="424.5" x2="462.5" y2="416.5" stroke="#40c040" stroke-width="1.0"/>
<text x="387.7" y="177.6" font-family='"Liberation Sans", sans-serif' font-size="9.4" fill="#1a1a94" text-anchor="start" stroke="#1a1a94" stroke-width="0.15" >U1</text>
<text x="387.7" y="186.4" font-family='"Liberation Sans", sans-serif' font-size="9.4" fill="#1a1a94" text-anchor="start" stroke="#1a1a94" stroke-width="0.15" >W5500</text>
<line x1="458.5" y1="200.5" x2="473.5" y2="200.5" stroke="#008800" stroke-width="1.0"/>
<line x1="473.5" y1="200.5" x2="473.5" y2="180.5" stroke="#008800" stroke-width="1.0"/>
<line x1="473.5" y1="180.5" x2="473.5" y2="170.5" stroke="#000000" stroke-width="1.0"/>
<polygon points="463.5,170.5 483.5,170.5 473.5,164.5" fill="none" stroke="#000000" stroke-width="1"/>
<text x="461.3" y="161.8" font-family='"Liberation Serif", serif' font-size="11.4" fill="#000000" text-anchor="start" stroke="#000000" stroke-width="0.12" >AGND</text>
<line x1="488.0" y1="190.5" x2="499.0" y2="190.5" stroke="#000000" stroke-width="1.0"/>
<line x1="493.5" y1="190.5" x2="493.5" y2="200.5" stroke="#000000" stroke-width="1.0"/>
<text x="483.9" y="188.1" font-family='"Liberation Serif", serif' font-size="12" fill="#000000" text-anchor="start" stroke="#000000" stroke-width="0.12" >+3V3D</text>
<line x1="493.5" y1="200.5" x2="493.5" y2="250.5" stroke="#008800" stroke-width="1.0"/>
<line x1="458.5" y1="230.5" x2="493.5" y2="230.5" stroke="#008800" stroke-width="1.0"/>
<line x1="458.5" y1="240.5" x2="493.5" y2="240.5" stroke="#008800" stroke-width="1.0"/>
<line x1="458.5" y1="250.5" x2="493.5" y2="250.5" stroke="#008800" stroke-width="1.0"/>
<line x1="518.5" y1="230.5" x2="518.5" y2="220.5" stroke="#000000" stroke-width="1.0"/>
<line x1="509.0" y1="220.5" x2="528.0" y2="220.5" stroke="#000000" stroke-width="1.0"/>
<line x1="512.2" y1="218.5" x2="524.8" y2="218.5" stroke="#000000" stroke-width="1.0"/>
<line x1="515.0" y1="216.5" x2="522.0" y2="216.5" stroke="#000000" stroke-width="1.0"/>
<line x1="517.0" y1="214.5" x2="520.0" y2="214.5" stroke="#000000" stroke-width="1.0"/>
<text x="518.5" y="211.8" font-family='"Liberation Serif", serif' font-size="11.7" fill="#000000" text-anchor="middle" stroke="#000000" stroke-width="0.12" >GND</text>
<line x1="518.5" y1="230.5" x2="518.5" y2="260.5" stroke="#008800" stroke-width="1.0"/>
<line x1="493.5" y1="260.5" x2="518.5" y2="260.5" stroke="#008800" stroke-width="1.0"/>
<line x1="493.5" y1="260.5" x2="493.5" y2="300.5" stroke="#008800" stroke-width="1.0"/>
<line x1="458.5" y1="260.5" x2="493.5" y2="260.5" stroke="#008800" stroke-width="1.0"/>
<line x1="458.5" y1="270.5" x2="493.5" y2="270.5" stroke="#008800" stroke-width="1.0"/>
<line x1="458.5" y1="280.5" x2="493.5" y2="280.5" stroke="#008800" stroke-width="1.0"/>
<line x1="458.5" y1="290.5" x2="493.5" y2="290.5" stroke="#008800" stroke-width="1.0"/>
<line x1="458.5" y1="300.5" x2="493.5" y2="300.5" stroke="#008800" stroke-width="1.0"/>
<line x1="458.5" y1="310.5" x2="593.5" y2="310.5" stroke="#008800" stroke-width="1.0"/>
<line x1="458.5" y1="320.5" x2="593.5" y2="320.5" stroke="#008800" stroke-width="1.0"/>
<line x1="458.5" y1="360.5" x2="593.5" y2="360.5" stroke="#008800" stroke-width="1.0"/>
<polygon points="533.5,275.5 543.5,275.5 543.5,290.5 538.5,295.5 533.5,290.5" fill="none" stroke="#1010e0" stroke-width="1"/>
<text x="0" y="0" font-family='"Liberation Serif", serif' font-size="10.5" fill="#1010e0" text-anchor="start" stroke="#1010e0" stroke-width="0.14" transform="translate(544.0,273.5) rotate(-90)">SCSn</text>
<polygon points="548.5,275.5 558.5,275.5 558.5,290.5 553.5,295.5 548.5,290.5" fill="none" stroke="#1010e0" stroke-width="1"/>
<text x="0" y="0" font-family='"Liberation Serif", serif' font-size="10.5" fill="#1010e0" text-anchor="start" stroke="#1010e0" stroke-width="0.14" transform="translate(559.0,273.5) rotate(-90)">RSTn</text>
<polygon points="563.5,275.5 573.5,275.5 573.5,290.5 568.5,295.5 563.5,290.5" fill="none" stroke="#1010e0" stroke-width="1"/>
<text x="0" y="0" font-family='"Liberation Serif", serif' font-size="10.5" fill="#1010e0" text-anchor="start" stroke="#1010e0" stroke-width="0.14" transform="translate(574.0,273.5) rotate(-90)">INTn</text>
<line x1="538.5" y1="295.5" x2="538.5" y2="360.5" stroke="#008800" stroke-width="1.0"/>
<line x1="553.5" y1="295.5" x2="553.5" y2="310.5" stroke="#008800" stroke-width="1.0"/>
<line x1="568.5" y1="295.5" x2="568.5" y2="320.5" stroke="#008800" stroke-width="1.0"/>
<polygon points="459,330.5 463.5,325.5 478.5,325.5 478.5,335.5 463.5,335.5" fill="none" stroke="#1010e0" stroke-width="1"/>
<text x="480.4" y="335.3" font-family='"Liberation Serif", serif' font-size="10.5" fill="#1010e0" text-anchor="start" stroke="#1010e0" stroke-width="0.14" >MOSI</text>
<polygon points="459,340.5 463.5,335.5 478.5,335.5 478.5,345.5 463.5,345.5" fill="none" stroke="#1010e0" stroke-width="1"/>
<text x="480.4" y="345.3" font-family='"Liberation Serif", serif' font-size="10.5" fill="#1010e0" text-anchor="start" stroke="#1010e0" stroke-width="0.14" >MISO</text>
<polygon points="459,350.5 463.5,345.5 478.5,345.5 478.5,355.5 463.5,355.5" fill="none" stroke="#1010e0" stroke-width="1"/>
<text x="480.4" y="355.3" font-family='"Liberation Serif", serif' font-size="10.5" fill="#1010e0" text-anchor="start" stroke="#1010e0" stroke-width="0.14" >SCLK</text>
<line x1="633.5" y1="310.5" x2="648.5" y2="310.5" stroke="#008800" stroke-width="1.0"/>
<line x1="593.5" y1="310.5" x2="603.5" y2="310.5" stroke="#000000" stroke-width="1.0"/>
<line x1="623.5" y1="310.5" x2="633.5" y2="310.5" stroke="#000000" stroke-width="1.0"/>
<rect x="603.5" y="306.5" width="20.0" height="8.0" rx="0" fill="none" stroke="#8c0808" stroke-width="1.0"/>
<text x="585.5" y="309.1" font-family='"Liberation Sans", sans-serif' font-size="9.4" fill="#1a1a94" text-anchor="start" stroke="#1a1a94" stroke-width="0.15" >R14</text>
<text x="623.9" y="309.1" font-family='"Liberation Sans", sans-serif' font-size="9.4" fill="#1a1a94" text-anchor="start" stroke="#1a1a94" stroke-width="0.15" >4.7K</text>
<line x1="633.5" y1="320.5" x2="648.5" y2="320.5" stroke="#008800" stroke-width="1.0"/>
<line x1="593.5" y1="320.5" x2="603.5" y2="320.5" stroke="#000000" stroke-width="1.0"/>
<line x1="623.5" y1="320.5" x2="633.5" y2="320.5" stroke="#000000" stroke-width="1.0"/>
<rect x="603.5" y="316.5" width="20.0" height="8.0" rx="0" fill="none" stroke="#8c0808" stroke-width="1.0"/>
<text x="585.5" y="319.1" font-family='"Liberation Sans", sans-serif' font-size="9.4" fill="#1a1a94" text-anchor="start" stroke="#1a1a94" stroke-width="0.15" >R15</text>
<text x="623.9" y="319.1" font-family='"Liberation Sans", sans-serif' font-size="9.4" fill="#1a1a94" text-anchor="start" stroke="#1a1a94" stroke-width="0.15" >4.7K</text>
<line x1="633.5" y1="360.5" x2="648.5" y2="360.5" stroke="#008800" stroke-width="1.0"/>
<line x1="593.5" y1="360.5" x2="603.5" y2="360.5" stroke="#000000" stroke-width="1.0"/>
<line x1="623.5" y1="360.5" x2="633.5" y2="360.5" stroke="#000000" stroke-width="1.0"/>
<rect x="603.5" y="356.5" width="20.0" height="8.0" rx="0" fill="none" stroke="#8c0808" stroke-width="1.0"/>
<text x="585.5" y="359.1" font-family='"Liberation Sans", sans-serif' font-size="9.4" fill="#1a1a94" text-anchor="start" stroke="#1a1a94" stroke-width="0.15" >R16</text>
<text x="623.9" y="359.1" font-family='"Liberation Sans", sans-serif' font-size="9.4" fill="#1a1a94" text-anchor="start" stroke="#1a1a94" stroke-width="0.15" >4.7K</text>
<line x1="643.0" y1="285.5" x2="654.0" y2="285.5" stroke="#000000" stroke-width="1.0"/>
<line x1="648.5" y1="285.5" x2="648.5" y2="295.5" stroke="#000000" stroke-width="1.0"/>
<text x="648.5" y="282" font-family='"Liberation Serif", serif' font-size="12" fill="#000000" text-anchor="middle" stroke="#000000" stroke-width="0.12" >+3V3D</text>
<line x1="648.5" y1="295.5" x2="648.5" y2="400.5" stroke="#008800" stroke-width="1.0"/>
<line x1="458.5" y1="370.5" x2="778.5" y2="370.5" stroke="#008800" stroke-width="1.0"/>
<line x1="458.5" y1="380.5" x2="663.5" y2="380.5" stroke="#008800" stroke-width="1.0"/>
<line x1="458.5" y1="390.5" x2="538.5" y2="390.5" stroke="#008800" stroke-width="1.0"/>
<line x1="538.5" y1="390.5" x2="538.5" y2="485.5" stroke="#008800" stroke-width="1.0"/>
<line x1="538.5" y1="485.5" x2="538.5" y2="495.5" stroke="#000000" stroke-width="1.0"/>
<line x1="529.0" y1="495.5" x2="548.0" y2="495.5" stroke="#000000" stroke-width="1.0"/>
<line x1="532.2" y1="497.5" x2="544.8" y2="497.5" stroke="#000000" stroke-width="1.0"/>
<line x1="535.0" y1="499.5" x2="542.0" y2="499.5" stroke="#000000" stroke-width="1.0"/>
<line x1="537.0" y1="501.5" x2="540.0" y2="501.5" stroke="#000000" stroke-width="1.0"/>
<text x="538.5" y="511.5" font-family='"Liberation Serif", serif' font-size="11.7" fill="#000000" text-anchor="middle" stroke="#000000" stroke-width="0.12" >GND</text>
<line x1="458.5" y1="400.5" x2="648.5" y2="400.5" stroke="#008800" stroke-width="1.0"/>
<line x1="558.5" y1="400.5" x2="558.5" y2="415.5" stroke="#008800" stroke-width="1.0"/>
<line x1="558.5" y1="455.5" x2="558.5" y2="470.5" stroke="#008800" stroke-width="1.0"/>
<line x1="558.5" y1="415.5" x2="558.5" y2="433.5" stroke="#b01818" stroke-width="1.0"/>
<line x1="558.5" y1="437.5" x2="558.5" y2="455.5" stroke="#b01818" stroke-width="1.0"/>
<line x1="550.0" y1="433.5" x2="567.0" y2="433.5" stroke="#b01818" stroke-width="1.2"/>
<line x1="550.0" y1="437.5" x2="567.0" y2="437.5" stroke="#b01818" stroke-width="1.2"/>
<text x="562.7" y="428.7" font-family='"Liberation Sans", sans-serif' font-size="9.4" fill="#1a1a94" text-anchor="start" stroke="#1a1a94" stroke-width="0.15" >C3</text>
<text x="561" y="449.3" font-family='"Liberation Sans", sans-serif' font-size="9.4" fill="#1a1a94" text-anchor="start" stroke="#1a1a94" stroke-width="0.15" >100nF</text>
<line x1="598.5" y1="400.5" x2="598.5" y2="420.5" stroke="#008800" stroke-width="1.0"/>
<line x1="598.5" y1="450.5" x2="598.5" y2="470.5" stroke="#008800" stroke-width="1.0"/>
<line x1="598.5" y1="420.5" x2="598.5" y2="430.5" stroke="#303030" stroke-width="1.0"/>
<line x1="598.5" y1="440.5" x2="598.5" y2="450.5" stroke="#303030" stroke-width="1.0"/>
<line x1="598.5" y1="430.5" x2="598.5" y2="433.5" stroke="#b01818" stroke-width="1.0"/>
<line x1="598.5" y1="437.5" x2="598.5" y2="440.5" stroke="#b01818" stroke-width="1.0"/>
<line x1="590" y1="433.5" x2="607" y2="433.5" stroke="#b01818" stroke-width="1.2"/>
<line x1="590" y1="437.5" x2="607" y2="437.5" stroke="#b01818" stroke-width="1.2"/>
<line x1="600.3" y1="427.4" x2="604.7" y2="427.4" stroke="#b01818" stroke-width="1"/>
<line x1="602.5" y1="425.2" x2="602.5" y2="429.6" stroke="#b01818" stroke-width="1"/>
<text x="608.8" y="438.7" font-family='"Liberation Sans", sans-serif' font-size="9.4" fill="#1a1a94" text-anchor="start" stroke="#1a1a94" stroke-width="0.15" >C4</text>
<text x="603.5" y="449.3" font-family='"Liberation Sans", sans-serif' font-size="9.4" fill="#1a1a94" text-anchor="start" stroke="#1a1a94" stroke-width="0.15" >10uF</text>
<line x1="458.5" y1="410.5" x2="513.5" y2="410.5" stroke="#008800" stroke-width="1.0"/>
<text x="475.3" y="408" font-family='"Liberation Serif", serif' font-size="9" fill="#1010e0" text-anchor="start" stroke="#1010e0" stroke-width="0.14" >ACTLED</text>
<line x1="458.5" y1="430.5" x2="513.5" y2="430.5" stroke="#008800" stroke-width="1.0"/>
<text x="471.4" y="428" font-family='"Liberation Serif", serif' font-size="9" fill="#1010e0" text-anchor="start" stroke="#1010e0" stroke-width="0.14" >LINKLED</text>
<line x1="663.5" y1="380.5" x2="663.5" y2="485.5" stroke="#008800" stroke-width="1.0"/>
<line x1="778.5" y1="370.5" x2="778.5" y2="485.5" stroke="#008800" stroke-width="1.0"/>
<line x1="663.5" y1="395.5" x2="703.5" y2="395.5" stroke="#008800" stroke-width="1.0"/>
<line x1="743.5" y1="395.5" x2="778.5" y2="395.5" stroke="#008800" stroke-width="1.0"/>
<line x1="703.5" y1="395.5" x2="713.5" y2="395.5" stroke="#000000" stroke-width="1.0"/>
<line x1="733.5" y1="395.5" x2="743.5" y2="395.5" stroke="#000000" stroke-width="1.0"/>
<rect x="713.5" y="391.5" width="20.0" height="8.0" rx="0" fill="none" stroke="#8c0808" stroke-width="1.0"/>
<text x="717.4" y="379.7" font-family='"Liberation Sans", sans-serif' font-size="9.4" fill="#1a1a94" text-anchor="start" stroke="#1a1a94" stroke-width="0.15" >R1</text>
<text x="717.4" y="388" font-family='"Liberation Sans", sans-serif' font-size="9.4" fill="#1a1a94" text-anchor="start" stroke="#1a1a94" stroke-width="0.15" >1M</text>
<line x1="683.5" y1="435.5" x2="693.5" y2="435.5" stroke="#008800" stroke-width="1.0"/>
<line x1="683.5" y1="435.5" x2="683.5" y2="540.5" stroke="#008800" stroke-width="1.0"/>
<line x1="663.5" y1="455.5" x2="693.5" y2="455.5" stroke="#008800" stroke-width="1.0"/>
<line x1="753.5" y1="435.5" x2="778.5" y2="435.5" stroke="#008800" stroke-width="1.0"/>
<line x1="753.5" y1="455.5" x2="758.5" y2="455.5" stroke="#008800" stroke-width="1.0"/>
<line x1="758.5" y1="455.5" x2="758.5" y2="540.5" stroke="#008800" stroke-width="1.0"/>
<rect x="703.5" y="425.5" width="40.0" height="40.0" rx="2" fill="none" stroke="#8c0808" stroke-width="1.0"/>
<line x1="693.5" y1="435.5" x2="708.5" y2="435.5" stroke="#000000" stroke-width="1.0"/>
<line x1="693.5" y1="455.5" x2="703.5" y2="455.5" stroke="#000000" stroke-width="1.0"/>
<line x1="738.5" y1="435.5" x2="753.5" y2="435.5" stroke="#000000" stroke-width="1.0"/>
<line x1="738.5" y1="455.5" x2="753.5" y2="455.5" stroke="#000000" stroke-width="1.0"/>
<rect x="720.8" y="438.6" width="5.5" height="13.5" rx="0" fill="none" stroke="#8c0808" stroke-width="1.0"/>
<line x1="718.8" y1="440" x2="718.8" y2="450.5" stroke="#8c0808" stroke-width="1.0"/>
<line x1="728.6" y1="440" x2="728.6" y2="450.5" stroke="#8c0808" stroke-width="1.0"/>
<polyline points="718.8,445.5 713.8,445.5 713.8,455.5 703.5,455.5" fill="none" stroke="#8c0808" stroke-width="1.0"/>
<polyline points="728.6,445.5 733.8,445.5 733.8,435.5 743.5,435.5" fill="none" stroke="#8c0808" stroke-width="1.0"/>
<text x="709.8" y="432.6" font-family='"Liberation Sans", sans-serif' font-size="5.0" fill="#3a3a3a" text-anchor="start" stroke="#3a3a3a" stroke-width="0.15" letter-spacing="0.55">GND  OUT</text>
<text x="711.0" y="464.4" font-family='"Liberation Sans", sans-serif' font-size="5.0" fill="#3a3a3a" text-anchor="start" stroke="#3a3a3a" stroke-width="0.15" letter-spacing="0.55">OE#  GND</text>
<circle cx="708.6" cy="460.3" r="1.9" fill="#8c0808"/>
<text x="723.9" y="417.4" font-family='"Liberation Sans", sans-serif' font-size="9.4" fill="#1a1a94" text-anchor="start" stroke="#1a1a94" stroke-width="0.15" >25MHz</text>
<text x="723.9" y="424.3" font-family='"Liberation Sans", sans-serif' font-size="9.4" fill="#1a1a94" text-anchor="start" stroke="#1a1a94" stroke-width="0.15" >X2</text>
<line x1="663.5" y1="485.5" x2="663.5" y2="503.5" stroke="#b01818" stroke-width="1.0"/>
<line x1="663.5" y1="507.5" x2="663.5" y2="525.5" stroke="#b01818" stroke-width="1.0"/>
<line x1="655.0" y1="503.5" x2="672.0" y2="503.5" stroke="#b01818" stroke-width="1.2"/>
<line x1="655.0" y1="507.5" x2="672.0" y2="507.5" stroke="#b01818" stroke-width="1.2"/>
<line x1="663.5" y1="525.5" x2="663.5" y2="540.5" stroke="#008800" stroke-width="1.0"/>
<line x1="778.5" y1="485.5" x2="778.5" y2="503.5" stroke="#b01818" stroke-width="1.0"/>
<line x1="778.5" y1="507.5" x2="778.5" y2="525.5" stroke="#b01818" stroke-width="1.0"/>
<line x1="770.0" y1="503.5" x2="787.0" y2="503.5" stroke="#b01818" stroke-width="1.2"/>
<line x1="770.0" y1="507.5" x2="787.0" y2="507.5" stroke="#b01818" stroke-width="1.2"/>
<line x1="778.5" y1="525.5" x2="778.5" y2="540.5" stroke="#008800" stroke-width="1.0"/>
<text x="647.6" y="498.7" font-family='"Liberation Sans", sans-serif' font-size="9.4" fill="#1a1a94" text-anchor="start" stroke="#1a1a94" stroke-width="0.15" >C1</text>
<text x="638.8" y="518.8" font-family='"Liberation Sans", sans-serif' font-size="9.4" fill="#1a1a94" text-anchor="start" stroke="#1a1a94" stroke-width="0.15" >18pF</text>
<text x="782.6" y="498.7" font-family='"Liberation Sans", sans-serif' font-size="9.4" fill="#1a1a94" text-anchor="start" stroke="#1a1a94" stroke-width="0.15" >C2</text>
<text x="783.6" y="518.8" font-family='"Liberation Sans", sans-serif' font-size="9.4" fill="#1a1a94" text-anchor="start" stroke="#1a1a94" stroke-width="0.15" >18pF</text>
<line x1="663.5" y1="540.5" x2="778.5" y2="540.5" stroke="#008800" stroke-width="1.0"/>
<line x1="723.5" y1="540.5" x2="723.5" y2="550.5" stroke="#000000" stroke-width="1.0"/>
<line x1="714.0" y1="550.5" x2="733.0" y2="550.5" stroke="#000000" stroke-width="1.0"/>
<line x1="717.2" y1="552.5" x2="729.8" y2="552.5" stroke="#000000" stroke-width="1.0"/>
<line x1="720.0" y1="554.5" x2="727.0" y2="554.5" stroke="#000000" stroke-width="1.0"/>
<line x1="722.0" y1="556.5" x2="725.0" y2="556.5" stroke="#000000" stroke-width="1.0"/>
<text x="723.5" y="566.5" font-family='"Liberation Serif", serif' font-size="11.7" fill="#000000" text-anchor="middle" stroke="#000000" stroke-width="0.12" >GND</text>
<line x1="763.0" y1="75.5" x2="774.0" y2="75.5" stroke="#000000" stroke-width="1.0"/>
<line x1="768.5" y1="75.5" x2="768.5" y2="85.5" stroke="#000000" stroke-width="1.0"/>
<text x="758.5" y="73.8" font-family='"Liberation Serif", serif' font-size="12" fill="#000000" text-anchor="start" stroke="#000000" stroke-width="0.12" >+3V3A</text>
<line x1="768.5" y1="85.5" x2="768.5" y2="125.5" stroke="#008800" stroke-width="1.0"/>
<line x1="768.5" y1="105.5" x2="868.5" y2="105.5" stroke="#008800" stroke-width="1.0"/>
<line x1="868.5" y1="105.5" x2="868.5" y2="125.5" stroke="#008800" stroke-width="1.0"/>
<line x1="823.5" y1="105.5" x2="823.5" y2="125.5" stroke="#008800" stroke-width="1.0"/>
<line x1="768.5" y1="125.5" x2="768.5" y2="135.5" stroke="#000000" stroke-width="1.0"/>
<line x1="768.5" y1="155.5" x2="768.5" y2="165.5" stroke="#000000" stroke-width="1.0"/>
<rect x="764.5" y="135.5" width="8.0" height="20.0" rx="0" fill="none" stroke="#8c0808" stroke-width="1.0"/>
<text x="775.0" y="148.6" font-family='"Liberation Sans", sans-serif' font-size="9.4" fill="#1a1a94" text-anchor="start" stroke="#1a1a94" stroke-width="0.15" >R3</text>
<text x="775.0" y="157.4" font-family='"Liberation Sans", sans-serif' font-size="9.4" fill="#1a1a94" text-anchor="start" stroke="#1a1a94" stroke-width="0.15" >49.9K</text>
<line x1="823.5" y1="125.5" x2="823.5" y2="135.5" stroke="#000000" stroke-width="1.0"/>
<line x1="823.5" y1="155.5" x2="823.5" y2="165.5" stroke="#000000" stroke-width="1.0"/>
<rect x="819.5" y="135.5" width="8.0" height="20.0" rx="0" fill="none" stroke="#8c0808" stroke-width="1.0"/>
<text x="830.0" y="148.6" font-family='"Liberation Sans", sans-serif' font-size="9.4" fill="#1a1a94" text-anchor="start" stroke="#1a1a94" stroke-width="0.15" >R6</text>
<text x="830.0" y="157.4" font-family='"Liberation Sans", sans-serif' font-size="9.4" fill="#1a1a94" text-anchor="start" stroke="#1a1a94" stroke-width="0.15" >49.9K</text>
<line x1="868.5" y1="125.5" x2="868.5" y2="135.5" stroke="#000000" stroke-width="1.0"/>
<line x1="868.5" y1="155.5" x2="868.5" y2="165.5" stroke="#000000" stroke-width="1.0"/>
<rect x="864.5" y="135.5" width="8.0" height="20.0" rx="0" fill="none" stroke="#8c0808" stroke-width="1.0"/>
<text x="875.0" y="148.6" font-family='"Liberation Sans", sans-serif' font-size="9.4" fill="#1a1a94" text-anchor="start" stroke="#1a1a94" stroke-width="0.15" >R4</text>
<text x="875.0" y="157.4" font-family='"Liberation Sans", sans-serif' font-size="9.4" fill="#1a1a94" text-anchor="start" stroke="#1a1a94" stroke-width="0.15" >10K</text>
<line x1="768.5" y1="165.5" x2="768.5" y2="215.5" stroke="#008800" stroke-width="1.0"/>
<line x1="823.5" y1="165.5" x2="823.5" y2="205.5" stroke="#008800" stroke-width="1.0"/>
<line x1="868.5" y1="165.5" x2="868.5" y2="270.5" stroke="#008800" stroke-width="1.0"/>
<line x1="638.5" y1="205.5" x2="683.5" y2="205.5" stroke="#008800" stroke-width="1.0"/>
<line x1="723.5" y1="205.5" x2="933.5" y2="205.5" stroke="#008800" stroke-width="1.0"/>
<line x1="683.5" y1="205.5" x2="693.5" y2="205.5" stroke="#000000" stroke-width="1.0"/>
<line x1="713.5" y1="205.5" x2="723.5" y2="205.5" stroke="#000000" stroke-width="1.0"/>
<rect x="693.5" y="201.5" width="20.0" height="8.0" rx="0" fill="none" stroke="#8c0808" stroke-width="1.0"/>
<text x="640.7" y="203.0" font-family='"Liberation Serif", serif' font-size="9.2" fill="#1010e0" text-anchor="start" stroke="#1010e0" stroke-width="0.14" >TX+</text>
<text x="675.8" y="203.7" font-family='"Liberation Sans", sans-serif' font-size="9.4" fill="#1a1a94" text-anchor="start" stroke="#1a1a94" stroke-width="0.15" >R11</text>
<text x="718.6" y="203.7" font-family='"Liberation Sans", sans-serif' font-size="9.4" fill="#1a1a94" text-anchor="start" stroke="#1a1a94" stroke-width="0.15" >33</text>
<line x1="638.5" y1="215.5" x2="683.5" y2="215.5" stroke="#008800" stroke-width="1.0"/>
<line x1="723.5" y1="215.5" x2="933.5" y2="215.5" stroke="#008800" stroke-width="1.0"/>
<line x1="683.5" y1="215.5" x2="693.5" y2="215.5" stroke="#000000" stroke-width="1.0"/>
<line x1="713.5" y1="215.5" x2="723.5" y2="215.5" stroke="#000000" stroke-width="1.0"/>
<rect x="693.5" y="211.5" width="20.0" height="8.0" rx="0" fill="none" stroke="#8c0808" stroke-width="1.0"/>
<text x="640.7" y="213.0" font-family='"Liberation Serif", serif' font-size="9.2" fill="#1010e0" text-anchor="start" stroke="#1010e0" stroke-width="0.14" >TX-</text>
<text x="675.8" y="213.7" font-family='"Liberation Sans", sans-serif' font-size="9.4" fill="#1a1a94" text-anchor="start" stroke="#1a1a94" stroke-width="0.15" >R10</text>
<text x="718.6" y="213.7" font-family='"Liberation Sans", sans-serif' font-size="9.4" fill="#1a1a94" text-anchor="start" stroke="#1a1a94" stroke-width="0.15" >33</text>
<line x1="638.5" y1="245.5" x2="683.5" y2="245.5" stroke="#008800" stroke-width="1.0"/>
<line x1="723.5" y1="245.5" x2="933.5" y2="245.5" stroke="#008800" stroke-width="1.0"/>
<line x1="683.5" y1="245.5" x2="693.5" y2="245.5" stroke="#000000" stroke-width="1.0"/>
<line x1="713.5" y1="245.5" x2="723.5" y2="245.5" stroke="#000000" stroke-width="1.0"/>
<rect x="693.5" y="241.5" width="20.0" height="8.0" rx="0" fill="none" stroke="#8c0808" stroke-width="1.0"/>
<text x="640.7" y="243.0" font-family='"Liberation Serif", serif' font-size="9.2" fill="#1010e0" text-anchor="start" stroke="#1010e0" stroke-width="0.14" >RX+</text>
<text x="675.8" y="243.7" font-family='"Liberation Sans", sans-serif' font-size="9.4" fill="#1a1a94" text-anchor="start" stroke="#1a1a94" stroke-width="0.15" >R13</text>
<text x="718.6" y="243.7" font-family='"Liberation Sans", sans-serif' font-size="9.4" fill="#1a1a94" text-anchor="start" stroke="#1a1a94" stroke-width="0.15" >33</text>
<line x1="638.5" y1="255.5" x2="683.5" y2="255.5" stroke="#008800" stroke-width="1.0"/>
<line x1="723.5" y1="255.5" x2="933.5" y2="255.5" stroke="#008800" stroke-width="1.0"/>
<line x1="683.5" y1="255.5" x2="693.5" y2="255.5" stroke="#000000" stroke-width="1.0"/>
<line x1="713.5" y1="255.5" x2="723.5" y2="255.5" stroke="#000000" stroke-width="1.0"/>
<rect x="693.5" y="251.5" width="20.0" height="8.0" rx="0" fill="none" stroke="#8c0808" stroke-width="1.0"/>
<text x="640.7" y="253.0" font-family='"Liberation Serif", serif' font-size="9.2" fill="#1010e0" text-anchor="start" stroke="#1010e0" stroke-width="0.14" >RX-</text>
<text x="675.8" y="253.7" font-family='"Liberation Sans", sans-serif' font-size="9.4" fill="#1a1a94" text-anchor="start" stroke="#1a1a94" stroke-width="0.15" >R12</text>
<text x="718.6" y="253.7" font-family='"Liberation Sans", sans-serif' font-size="9.4" fill="#1a1a94" text-anchor="start" stroke="#1a1a94" stroke-width="0.15" >33</text>
<line x1="868.5" y1="225.5" x2="933.5" y2="225.5" stroke="#008800" stroke-width="1.0"/>
<line x1="753.5" y1="255.5" x2="771.5" y2="255.5" stroke="#b01818" stroke-width="1.0"/>
<line x1="775.5" y1="255.5" x2="793.5" y2="255.5" stroke="#b01818" stroke-width="1.0"/>
<line x1="771.5" y1="247.0" x2="771.5" y2="264.0" stroke="#b01818" stroke-width="1.2"/>
<line x1="775.5" y1="247.0" x2="775.5" y2="264.0" stroke="#b01818" stroke-width="1.2"/>
<line x1="818.5" y1="245.5" x2="836.5" y2="245.5" stroke="#b01818" stroke-width="1.0"/>
<line x1="840.5" y1="245.5" x2="858.5" y2="245.5" stroke="#b01818" stroke-width="1.0"/>
<line x1="836.5" y1="237.0" x2="836.5" y2="254.0" stroke="#b01818" stroke-width="1.2"/>
<line x1="840.5" y1="237.0" x2="840.5" y2="254.0" stroke="#b01818" stroke-width="1.2"/>
<text x="755.5" y="253.4" font-family='"Liberation Sans", sans-serif' font-size="9.4" fill="#1a1a94" text-anchor="start" stroke="#1a1a94" stroke-width="0.15" >C11</text>
<text x="776.8" y="253.4" font-family='"Liberation Sans", sans-serif' font-size="9.4" fill="#1a1a94" text-anchor="start" stroke="#1a1a94" stroke-width="0.15" >6.8nF</text>
<text x="822.7" y="243.5" font-family='"Liberation Sans", sans-serif' font-size="9.4" fill="#1a1a94" text-anchor="start" stroke="#1a1a94" stroke-width="0.15" >C7</text>
<text x="841.6" y="243.5" font-family='"Liberation Sans", sans-serif' font-size="9.4" fill="#1a1a94" text-anchor="start" stroke="#1a1a94" stroke-width="0.15" >6.8nF</text>
<line x1="748.5" y1="255.5" x2="748.5" y2="270.5" stroke="#008800" stroke-width="1.0"/>
<line x1="803.5" y1="245.5" x2="803.5" y2="270.5" stroke="#008800" stroke-width="1.0"/>
<line x1="748.5" y1="270.5" x2="748.5" y2="280.5" stroke="#000000" stroke-width="1.0"/>
<line x1="748.5" y1="300.5" x2="748.5" y2="310.5" stroke="#000000" stroke-width="1.0"/>
<rect x="744.5" y="280.5" width="8.0" height="20.0" rx="0" fill="none" stroke="#8c0808" stroke-width="1.0"/>
<line x1="748.5" y1="310.5" x2="748.5" y2="325.5" stroke="#008800" stroke-width="1.0"/>
<text x="754.7" y="293.2" font-family='"Liberation Sans", sans-serif' font-size="9.4" fill="#1a1a94" text-anchor="start" stroke="#1a1a94" stroke-width="0.15" >R7</text>
<text x="754.7" y="302" font-family='"Liberation Sans", sans-serif' font-size="9.4" fill="#1a1a94" text-anchor="start" stroke="#1a1a94" stroke-width="0.15" >49.9K</text>
<line x1="803.5" y1="270.5" x2="803.5" y2="280.5" stroke="#000000" stroke-width="1.0"/>
<line x1="803.5" y1="300.5" x2="803.5" y2="310.5" stroke="#000000" stroke-width="1.0"/>
<rect x="799.5" y="280.5" width="8.0" height="20.0" rx="0" fill="none" stroke="#8c0808" stroke-width="1.0"/>
<line x1="803.5" y1="310.5" x2="803.5" y2="325.5" stroke="#008800" stroke-width="1.0"/>
<text x="809.7" y="293.2" font-family='"Liberation Sans", sans-serif' font-size="9.4" fill="#1a1a94" text-anchor="start" stroke="#1a1a94" stroke-width="0.15" >R8</text>
<text x="809.7" y="302" font-family='"Liberation Sans", sans-serif' font-size="9.4" fill="#1a1a94" text-anchor="start" stroke="#1a1a94" stroke-width="0.15" >49.9K</text>
<line x1="748.5" y1="325.5" x2="893.5" y2="325.5" stroke="#008800" stroke-width="1.0"/>
<line x1="803.5" y1="325.5" x2="803.5" y2="350.5" stroke="#008800" stroke-width="1.0"/>
<line x1="803.5" y1="350.5" x2="803.5" y2="368.5" stroke="#b01818" stroke-width="1.0"/>
<line x1="803.5" y1="372.5" x2="803.5" y2="390.5" stroke="#b01818" stroke-width="1.0"/>
<line x1="795.0" y1="368.5" x2="812.0" y2="368.5" stroke="#b01818" stroke-width="1.2"/>
<line x1="795.0" y1="372.5" x2="812.0" y2="372.5" stroke="#b01818" stroke-width="1.2"/>
<line x1="803.5" y1="390.5" x2="803.5" y2="410.5" stroke="#008800" stroke-width="1.0"/>
<line x1="803.5" y1="410.5" x2="803.5" y2="420.5" stroke="#000000" stroke-width="1.0"/>
<line x1="794.0" y1="420.5" x2="813.0" y2="420.5" stroke="#000000" stroke-width="1.0"/>
<line x1="797.2" y1="422.5" x2="809.8" y2="422.5" stroke="#000000" stroke-width="1.0"/>
<line x1="800.0" y1="424.5" x2="807.0" y2="424.5" stroke="#000000" stroke-width="1.0"/>
<line x1="802.0" y1="426.5" x2="805.0" y2="426.5" stroke="#000000" stroke-width="1.0"/>
<text x="803.5" y="437.4" font-family='"Liberation Serif", serif' font-size="11.7" fill="#000000" text-anchor="middle" stroke="#000000" stroke-width="0.12" >GND</text>
<text x="814" y="374.1" font-family='"Liberation Sans", sans-serif' font-size="9.4" fill="#1a1a94" text-anchor="start" stroke="#1a1a94" stroke-width="0.15" >C8</text>
<text x="814" y="382.4" font-family='"Liberation Sans", sans-serif' font-size="9.4" fill="#1a1a94" text-anchor="start" stroke="#1a1a94" stroke-width="0.15" >10nF</text>
<line x1="868.5" y1="270.5" x2="868.5" y2="288.5" stroke="#b01818" stroke-width="1.0"/>
<line x1="868.5" y1="292.5" x2="868.5" y2="310.5" stroke="#b01818" stroke-width="1.0"/>
<line x1="860.0" y1="288.5" x2="877.0" y2="288.5" stroke="#b01818" stroke-width="1.2"/>
<line x1="860.0" y1="292.5" x2="877.0" y2="292.5" stroke="#b01818" stroke-width="1.2"/>
<line x1="868.5" y1="310.5" x2="868.5" y2="350.5" stroke="#008800" stroke-width="1.0"/>
<text x="870" y="283.8" font-family='"Liberation Sans", sans-serif' font-size="9.4" fill="#1a1a94" text-anchor="start" stroke="#1a1a94" stroke-width="0.15" >C10</text>
<text x="873.1" y="303.6" font-family='"Liberation Sans", sans-serif' font-size="9.4" fill="#1a1a94" text-anchor="start" stroke="#1a1a94" stroke-width="0.15" >22nF</text>
<line x1="868.5" y1="350.5" x2="948.5" y2="350.5" stroke="#008800" stroke-width="1.0"/>
<line x1="948.5" y1="350.5" x2="966.5" y2="350.5" stroke="#b01818" stroke-width="1.0"/>
<line x1="970.5" y1="350.5" x2="988.5" y2="350.5" stroke="#b01818" stroke-width="1.0"/>
<line x1="966.5" y1="342.0" x2="966.5" y2="359.0" stroke="#b01818" stroke-width="1.2"/>
<line x1="970.5" y1="342.0" x2="970.5" y2="359.0" stroke="#b01818" stroke-width="1.2"/>
<line x1="988.5" y1="350.5" x2="1023.5" y2="350.5" stroke="#008800" stroke-width="1.0"/>
<text x="962.6" y="330.7" font-family='"Liberation Sans", sans-serif' font-size="9.4" fill="#1a1a94" text-anchor="start" stroke="#1a1a94" stroke-width="0.15" >C9</text>
<text x="962.6" y="339.6" font-family='"Liberation Sans", sans-serif' font-size="9.4" fill="#1a1a94" text-anchor="start" stroke="#1a1a94" stroke-width="0.15" >1nF</text>
<line x1="908.5" y1="350.5" x2="908.5" y2="365.5" stroke="#008800" stroke-width="1.0"/>
<line x1="908.5" y1="365.5" x2="908.5" y2="375.5" stroke="#000000" stroke-width="1.0"/>
<polygon points="898.5,375.5 918.5,375.5 908.5,381.5" fill="none" stroke="#000000" stroke-width="1"/>
<text x="896.4" y="390.3" font-family='"Liberation Serif", serif' font-size="11.4" fill="#000000" text-anchor="start" stroke="#000000" stroke-width="0.12" >AGND</text>
<line x1="893.5" y1="235.5" x2="933.5" y2="235.5" stroke="#008800" stroke-width="1.0"/>
<line x1="893.5" y1="235.5" x2="893.5" y2="325.5" stroke="#008800" stroke-width="1.0"/>
<line x1="898.0" y1="90.5" x2="909.0" y2="90.5" stroke="#000000" stroke-width="1.0"/>
<line x1="903.5" y1="90.5" x2="903.5" y2="100.5" stroke="#000000" stroke-width="1.0"/>
<text x="903.5" y="87.6" font-family='"Liberation Serif", serif' font-size="12" fill="#000000" text-anchor="middle" stroke="#000000" stroke-width="0.12" >+3V3D</text>
<line x1="903.5" y1="100.5" x2="903.5" y2="295.5" stroke="#008800" stroke-width="1.0"/>
<line x1="903.5" y1="185.5" x2="933.5" y2="185.5" stroke="#008800" stroke-width="1.0"/>
<line x1="903.5" y1="295.5" x2="933.5" y2="295.5" stroke="#008800" stroke-width="1.0"/>
<line x1="913.5" y1="115.5" x2="933.5" y2="115.5" stroke="#008800" stroke-width="1.0"/>
<line x1="933.5" y1="115.5" x2="943.5" y2="115.5" stroke="#000000" stroke-width="1.0"/>
<line x1="963.5" y1="115.5" x2="973.5" y2="115.5" stroke="#000000" stroke-width="1.0"/>
<rect x="943.5" y="111.5" width="20.0" height="8.0" rx="0" fill="none" stroke="#8c0808" stroke-width="1.0"/>
<line x1="973.5" y1="115.5" x2="1013.5" y2="115.5" stroke="#008800" stroke-width="1.0"/>
<text x="947.8" y="99.6" font-family='"Liberation Sans", sans-serif' font-size="9.4" fill="#1a1a94" text-anchor="start" stroke="#1a1a94" stroke-width="0.15" >R5</text>
<text x="947.8" y="108.5" font-family='"Liberation Sans", sans-serif' font-size="9.4" fill="#1a1a94" text-anchor="start" stroke="#1a1a94" stroke-width="0.15" >330</text>
<text x="975.6" y="112.9" font-family='"Liberation Serif", serif' font-size="9" fill="#1010e0" text-anchor="start" stroke="#1010e0" stroke-width="0.14" >ACTLED</text>
<line x1="923.5" y1="145.5" x2="933.5" y2="145.5" stroke="#008800" stroke-width="1.0"/>
<line x1="933.5" y1="145.5" x2="943.5" y2="145.5" stroke="#000000" stroke-width="1.0"/>
<line x1="963.5" y1="145.5" x2="973.5" y2="145.5" stroke="#000000" stroke-width="1.0"/>
<rect x="943.5" y="141.5" width="20.0" height="8.0" rx="0" fill="none" stroke="#8c0808" stroke-width="1.0"/>
<line x1="973.5" y1="145.5" x2="1013.5" y2="145.5" stroke="#008800" stroke-width="1.0"/>
<text x="947.8" y="129.6" font-family='"Liberation Sans", sans-serif' font-size="9.4" fill="#1a1a94" text-anchor="start" stroke="#1a1a94" stroke-width="0.15" >R9</text>
<text x="947.8" y="138.5" font-family='"Liberation Sans", sans-serif' font-size="9.4" fill="#1a1a94" text-anchor="start" stroke="#1a1a94" stroke-width="0.15" >330</text>
<text x="971" y="142.9" font-family='"Liberation Serif", serif' font-size="9" fill="#1010e0" text-anchor="start" stroke="#1010e0" stroke-width="0.14" >LINKLED</text>
<line x1="913.5" y1="115.5" x2="913.5" y2="285.5" stroke="#008800" stroke-width="1.0"/>
<line x1="913.5" y1="285.5" x2="933.5" y2="285.5" stroke="#008800" stroke-width="1.0"/>
<line x1="923.5" y1="145.5" x2="923.5" y2="195.5" stroke="#008800" stroke-width="1.0"/>
<line x1="923.5" y1="195.5" x2="933.5" y2="195.5" stroke="#008800" stroke-width="1.0"/>
<line x1="923.5" y1="275.5" x2="933.5" y2="275.5" stroke="#008800" stroke-width="1.0"/>
<line x1="923.5" y1="275.5" x2="923.5" y2="315.5" stroke="#008800" stroke-width="1.0"/>
<line x1="923.5" y1="315.5" x2="1023.5" y2="315.5" stroke="#008800" stroke-width="1.0"/>
<line x1="1013.5" y1="200.5" x2="1023.5" y2="200.5" stroke="#008800" stroke-width="1.0"/>
<line x1="1023.5" y1="200.5" x2="1023.5" y2="350.5" stroke="#008800" stroke-width="1.0"/>
<line x1="1013.5" y1="290.5" x2="1023.5" y2="290.5" stroke="#008800" stroke-width="1.0"/>
<rect x="953.5" y="175.5" width="50.0" height="130.0" rx="2" fill="none" stroke="#8c0808" stroke-width="1.0"/>
<line x1="933.5" y1="185.5" x2="953.5" y2="185.5" stroke="#8c0808" stroke-width="1.0"/>
<text x="948.5" y="184.7" font-family='"Liberation Sans", sans-serif' font-size="9.6" fill="#1010f0" text-anchor="end" stroke="#1010f0" stroke-width="0.15" >1</text>
<text x="955.7" y="188.2" font-family='"Liberation Sans", sans-serif' font-size="9.6" fill="#1010f0" text-anchor="start" stroke="#1010f0" stroke-width="0.15" >LED1+</text>
<line x1="933.5" y1="195.5" x2="953.5" y2="195.5" stroke="#8c0808" stroke-width="1.0"/>
<text x="948.5" y="194.7" font-family='"Liberation Sans", sans-serif' font-size="9.6" fill="#1010f0" text-anchor="end" stroke="#1010f0" stroke-width="0.15" >2</text>
<text x="955.7" y="198.2" font-family='"Liberation Sans", sans-serif' font-size="9.6" fill="#1010f0" text-anchor="start" stroke="#1010f0" stroke-width="0.15" >LED1-</text>
<line x1="933.5" y1="205.5" x2="953.5" y2="205.5" stroke="#8c0808" stroke-width="1.0"/>
<text x="948.5" y="204.7" font-family='"Liberation Sans", sans-serif' font-size="9.6" fill="#1010f0" text-anchor="end" stroke="#1010f0" stroke-width="0.15" >3</text>
<text x="955.7" y="208.2" font-family='"Liberation Sans", sans-serif' font-size="9.6" fill="#1010f0" text-anchor="start" stroke="#1010f0" stroke-width="0.15" >TD+</text>
<line x1="933.5" y1="215.5" x2="953.5" y2="215.5" stroke="#8c0808" stroke-width="1.0"/>
<text x="948.5" y="214.7" font-family='"Liberation Sans", sans-serif' font-size="9.6" fill="#1010f0" text-anchor="end" stroke="#1010f0" stroke-width="0.15" >4</text>
<text x="955.7" y="218.2" font-family='"Liberation Sans", sans-serif' font-size="9.6" fill="#1010f0" text-anchor="start" stroke="#1010f0" stroke-width="0.15" >TD-</text>
<line x1="933.5" y1="225.5" x2="953.5" y2="225.5" stroke="#8c0808" stroke-width="1.0"/>
<text x="948.5" y="224.7" font-family='"Liberation Sans", sans-serif' font-size="9.6" fill="#1010f0" text-anchor="end" stroke="#1010f0" stroke-width="0.15" >5</text>
<text x="955.7" y="228.2" font-family='"Liberation Sans", sans-serif' font-size="9.6" fill="#1010f0" text-anchor="start" stroke="#1010f0" stroke-width="0.15" >CT</text>
<line x1="933.5" y1="235.5" x2="953.5" y2="235.5" stroke="#8c0808" stroke-width="1.0"/>
<text x="948.5" y="234.7" font-family='"Liberation Sans", sans-serif' font-size="9.6" fill="#1010f0" text-anchor="end" stroke="#1010f0" stroke-width="0.15" >6</text>
<text x="955.7" y="238.2" font-family='"Liberation Sans", sans-serif' font-size="9.6" fill="#1010f0" text-anchor="start" stroke="#1010f0" stroke-width="0.15" >CT</text>
<line x1="933.5" y1="245.5" x2="953.5" y2="245.5" stroke="#8c0808" stroke-width="1.0"/>
<text x="948.5" y="244.7" font-family='"Liberation Sans", sans-serif' font-size="9.6" fill="#1010f0" text-anchor="end" stroke="#1010f0" stroke-width="0.15" >7</text>
<text x="955.7" y="248.2" font-family='"Liberation Sans", sans-serif' font-size="9.6" fill="#1010f0" text-anchor="start" stroke="#1010f0" stroke-width="0.15" >RD+</text>
<line x1="933.5" y1="255.5" x2="953.5" y2="255.5" stroke="#8c0808" stroke-width="1.0"/>
<text x="948.5" y="254.7" font-family='"Liberation Sans", sans-serif' font-size="9.6" fill="#1010f0" text-anchor="end" stroke="#1010f0" stroke-width="0.15" >8</text>
<text x="955.7" y="258.2" font-family='"Liberation Sans", sans-serif' font-size="9.6" fill="#1010f0" text-anchor="start" stroke="#1010f0" stroke-width="0.15" >RD-</text>
<line x1="933.5" y1="265.5" x2="953.5" y2="265.5" stroke="#8c0808" stroke-width="1.0"/>
<text x="948.5" y="264.7" font-family='"Liberation Sans", sans-serif' font-size="9.6" fill="#1010f0" text-anchor="end" stroke="#1010f0" stroke-width="0.15" >9</text>
<text x="955.7" y="268.2" font-family='"Liberation Sans", sans-serif' font-size="9.6" fill="#1010f0" text-anchor="start" stroke="#1010f0" stroke-width="0.15" >NC</text>
<line x1="933.5" y1="275.5" x2="953.5" y2="275.5" stroke="#8c0808" stroke-width="1.0"/>
<text x="948.5" y="274.7" font-family='"Liberation Sans", sans-serif' font-size="9.6" fill="#1010f0" text-anchor="end" stroke="#1010f0" stroke-width="0.15" >10</text>
<text x="955.7" y="278.2" font-family='"Liberation Sans", sans-serif' font-size="9.6" fill="#1010f0" text-anchor="start" stroke="#1010f0" stroke-width="0.15" >CHS_GND</text>
<line x1="933.5" y1="285.5" x2="953.5" y2="285.5" stroke="#8c0808" stroke-width="1.0"/>
<text x="948.5" y="284.7" font-family='"Liberation Sans", sans-serif' font-size="9.6" fill="#1010f0" text-anchor="end" stroke="#1010f0" stroke-width="0.15" >11</text>
<text x="955.7" y="288.2" font-family='"Liberation Sans", sans-serif' font-size="9.6" fill="#1010f0" text-anchor="start" stroke="#1010f0" stroke-width="0.15" >LED-</text>
<line x1="933.5" y1="295.5" x2="953.5" y2="295.5" stroke="#8c0808" stroke-width="1.0"/>
<text x="948.5" y="294.7" font-family='"Liberation Sans", sans-serif' font-size="9.6" fill="#1010f0" text-anchor="end" stroke="#1010f0" stroke-width="0.15" >12</text>
<text x="955.7" y="298.2" font-family='"Liberation Sans", sans-serif' font-size="9.6" fill="#1010f0" text-anchor="start" stroke="#1010f0" stroke-width="0.15" >LED+</text>
<line x1="929.5" y1="261.5" x2="937.5" y2="269.5" stroke="#40c040" stroke-width="1.0"/>
<line x1="929.5" y1="269.5" x2="937.5" y2="261.5" stroke="#40c040" stroke-width="1.0"/>
<line x1="1003.5" y1="200.5" x2="1013.5" y2="200.5" stroke="#8c0808" stroke-width="1.0"/>
<text x="1003.9" y="199.3" font-family='"Liberation Sans", sans-serif' font-size="9.6" fill="#1010f0" text-anchor="start" stroke="#1010f0" stroke-width="0.15" >14</text>
<text x="1001.2" y="203.1" font-family='"Liberation Sans", sans-serif' font-size="9.6" fill="#1010f0" text-anchor="end" stroke="#1010f0" stroke-width="0.15" >14</text>
<line x1="1003.5" y1="290.5" x2="1013.5" y2="290.5" stroke="#8c0808" stroke-width="1.0"/>
<text x="1003.9" y="289.3" font-family='"Liberation Sans", sans-serif' font-size="9.6" fill="#1010f0" text-anchor="start" stroke="#1010f0" stroke-width="0.15" >13</text>
<text x="1001.2" y="293.1" font-family='"Liberation Sans", sans-serif' font-size="9.6" fill="#1010f0" text-anchor="end" stroke="#1010f0" stroke-width="0.15" >13</text>
<text x="965.8" y="162.4" font-family='"Liberation Sans", sans-serif' font-size="9.4" fill="#1a1a94" text-anchor="start" stroke="#1a1a94" stroke-width="0.15" >RJ1</text>
<text x="965.8" y="171.1" font-family='"Liberation Sans", sans-serif' font-size="9.4" fill="#1a1a94" text-anchor="start" stroke="#1a1a94" stroke-width="0.15" >HR961160C</text>
<circle cx="68.5" cy="115.5" r="2.5" fill="#c80000"/>
<circle cx="108.5" cy="115.5" r="2.5" fill="#c80000"/>
<circle cx="148.5" cy="115.5" r="2.5" fill="#c80000"/>
<circle cx="188.5" cy="115.5" r="2.5" fill="#c80000"/>
<circle cx="223.5" cy="115.5" r="2.5" fill="#c80000"/>
<circle cx="263.5" cy="115.5" r="2.5" fill="#c80000"/>
<circle cx="313.5" cy="115.5" r="2.5" fill="#c80000"/>
<circle cx="23.5" cy="180.5" r="2.5" fill="#c80000"/>
<circle cx="68.5" cy="180.5" r="2.5" fill="#c80000"/>
<circle cx="108.5" cy="180.5" r="2.5" fill="#c80000"/>
<circle cx="148.5" cy="180.5" r="2.5" fill="#c80000"/>
<circle cx="188.5" cy="180.5" r="2.5" fill="#c80000"/>
<circle cx="223.5" cy="180.5" r="2.5" fill="#c80000"/>
<circle cx="208.5" cy="280.5" r="2.5" fill="#c80000"/>
<circle cx="208.5" cy="330.5" r="2.5" fill="#c80000"/>
<circle cx="208.5" cy="350.5" r="2.5" fill="#c80000"/>
<circle cx="208.5" cy="380.5" r="2.5" fill="#c80000"/>
<circle cx="313.5" cy="230.5" r="2.5" fill="#c80000"/>
<circle cx="313.5" cy="270.5" r="2.5" fill="#c80000"/>
<circle cx="313.5" cy="300.5" r="2.5" fill="#c80000"/>
<circle cx="313.5" cy="340.5" r="2.5" fill="#c80000"/>
<circle cx="313.5" cy="360.5" r="2.5" fill="#c80000"/>
<circle cx="243.5" cy="390.5" r="2.5" fill="#c80000"/>
<circle cx="243.5" cy="410.5" r="2.5" fill="#c80000"/>
<circle cx="303.5" cy="470.5" r="2.5" fill="#c80000"/>
<circle cx="493.5" cy="230.5" r="2.5" fill="#c80000"/>
<circle cx="493.5" cy="240.5" r="2.5" fill="#c80000"/>
<circle cx="493.5" cy="260.5" r="2.5" fill="#c80000"/>
<circle cx="493.5" cy="270.5" r="2.5" fill="#c80000"/>
<circle cx="493.5" cy="280.5" r="2.5" fill="#c80000"/>
<circle cx="493.5" cy="290.5" r="2.5" fill="#c80000"/>
<circle cx="538.5" cy="360.5" r="2.5" fill="#c80000"/>
<circle cx="553.5" cy="310.5" r="2.5" fill="#c80000"/>
<circle cx="568.5" cy="320.5" r="2.5" fill="#c80000"/>
<circle cx="648.5" cy="310.5" r="2.5" fill="#c80000"/>
<circle cx="648.5" cy="320.5" r="2.5" fill="#c80000"/>
<circle cx="648.5" cy="360.5" r="2.5" fill="#c80000"/>
<circle cx="538.5" cy="470.5" r="2.5" fill="#c80000"/>
<circle cx="558.5" cy="470.5" r="2.5" fill="#c80000"/>
<circle cx="558.5" cy="400.5" r="2.5" fill="#c80000"/>
<circle cx="598.5" cy="400.5" r="2.5" fill="#c80000"/>
<circle cx="663.5" cy="395.5" r="2.5" fill="#c80000"/>
<circle cx="778.5" cy="395.5" r="2.5" fill="#c80000"/>
<circle cx="663.5" cy="455.5" r="2.5" fill="#c80000"/>
<circle cx="778.5" cy="435.5" r="2.5" fill="#c80000"/>
<circle cx="683.5" cy="540.5" r="2.5" fill="#c80000"/>
<circle cx="723.5" cy="540.5" r="2.5" fill="#c80000"/>
<circle cx="758.5" cy="540.5" r="2.5" fill="#c80000"/>
<circle cx="768.5" cy="105.5" r="2.5" fill="#c80000"/>
<circle cx="823.5" cy="105.5" r="2.5" fill="#c80000"/>
<circle cx="768.5" cy="215.5" r="2.5" fill="#c80000"/>
<circle cx="823.5" cy="205.5" r="2.5" fill="#c80000"/>
<circle cx="868.5" cy="225.5" r="2.5" fill="#c80000"/>
<circle cx="748.5" cy="255.5" r="2.5" fill="#c80000"/>
<circle cx="803.5" cy="245.5" r="2.5" fill="#c80000"/>
<circle cx="803.5" cy="325.5" r="2.5" fill="#c80000"/>
<circle cx="908.5" cy="350.5" r="2.5" fill="#c80000"/>
<circle cx="903.5" cy="185.5" r="2.5" fill="#c80000"/>
<circle cx="1023.5" cy="315.5" r="2.5" fill="#c80000"/>
<circle cx="1023.5" cy="290.5" r="2.5" fill="#c80000"/>
</g>
</svg>
</body></html>
